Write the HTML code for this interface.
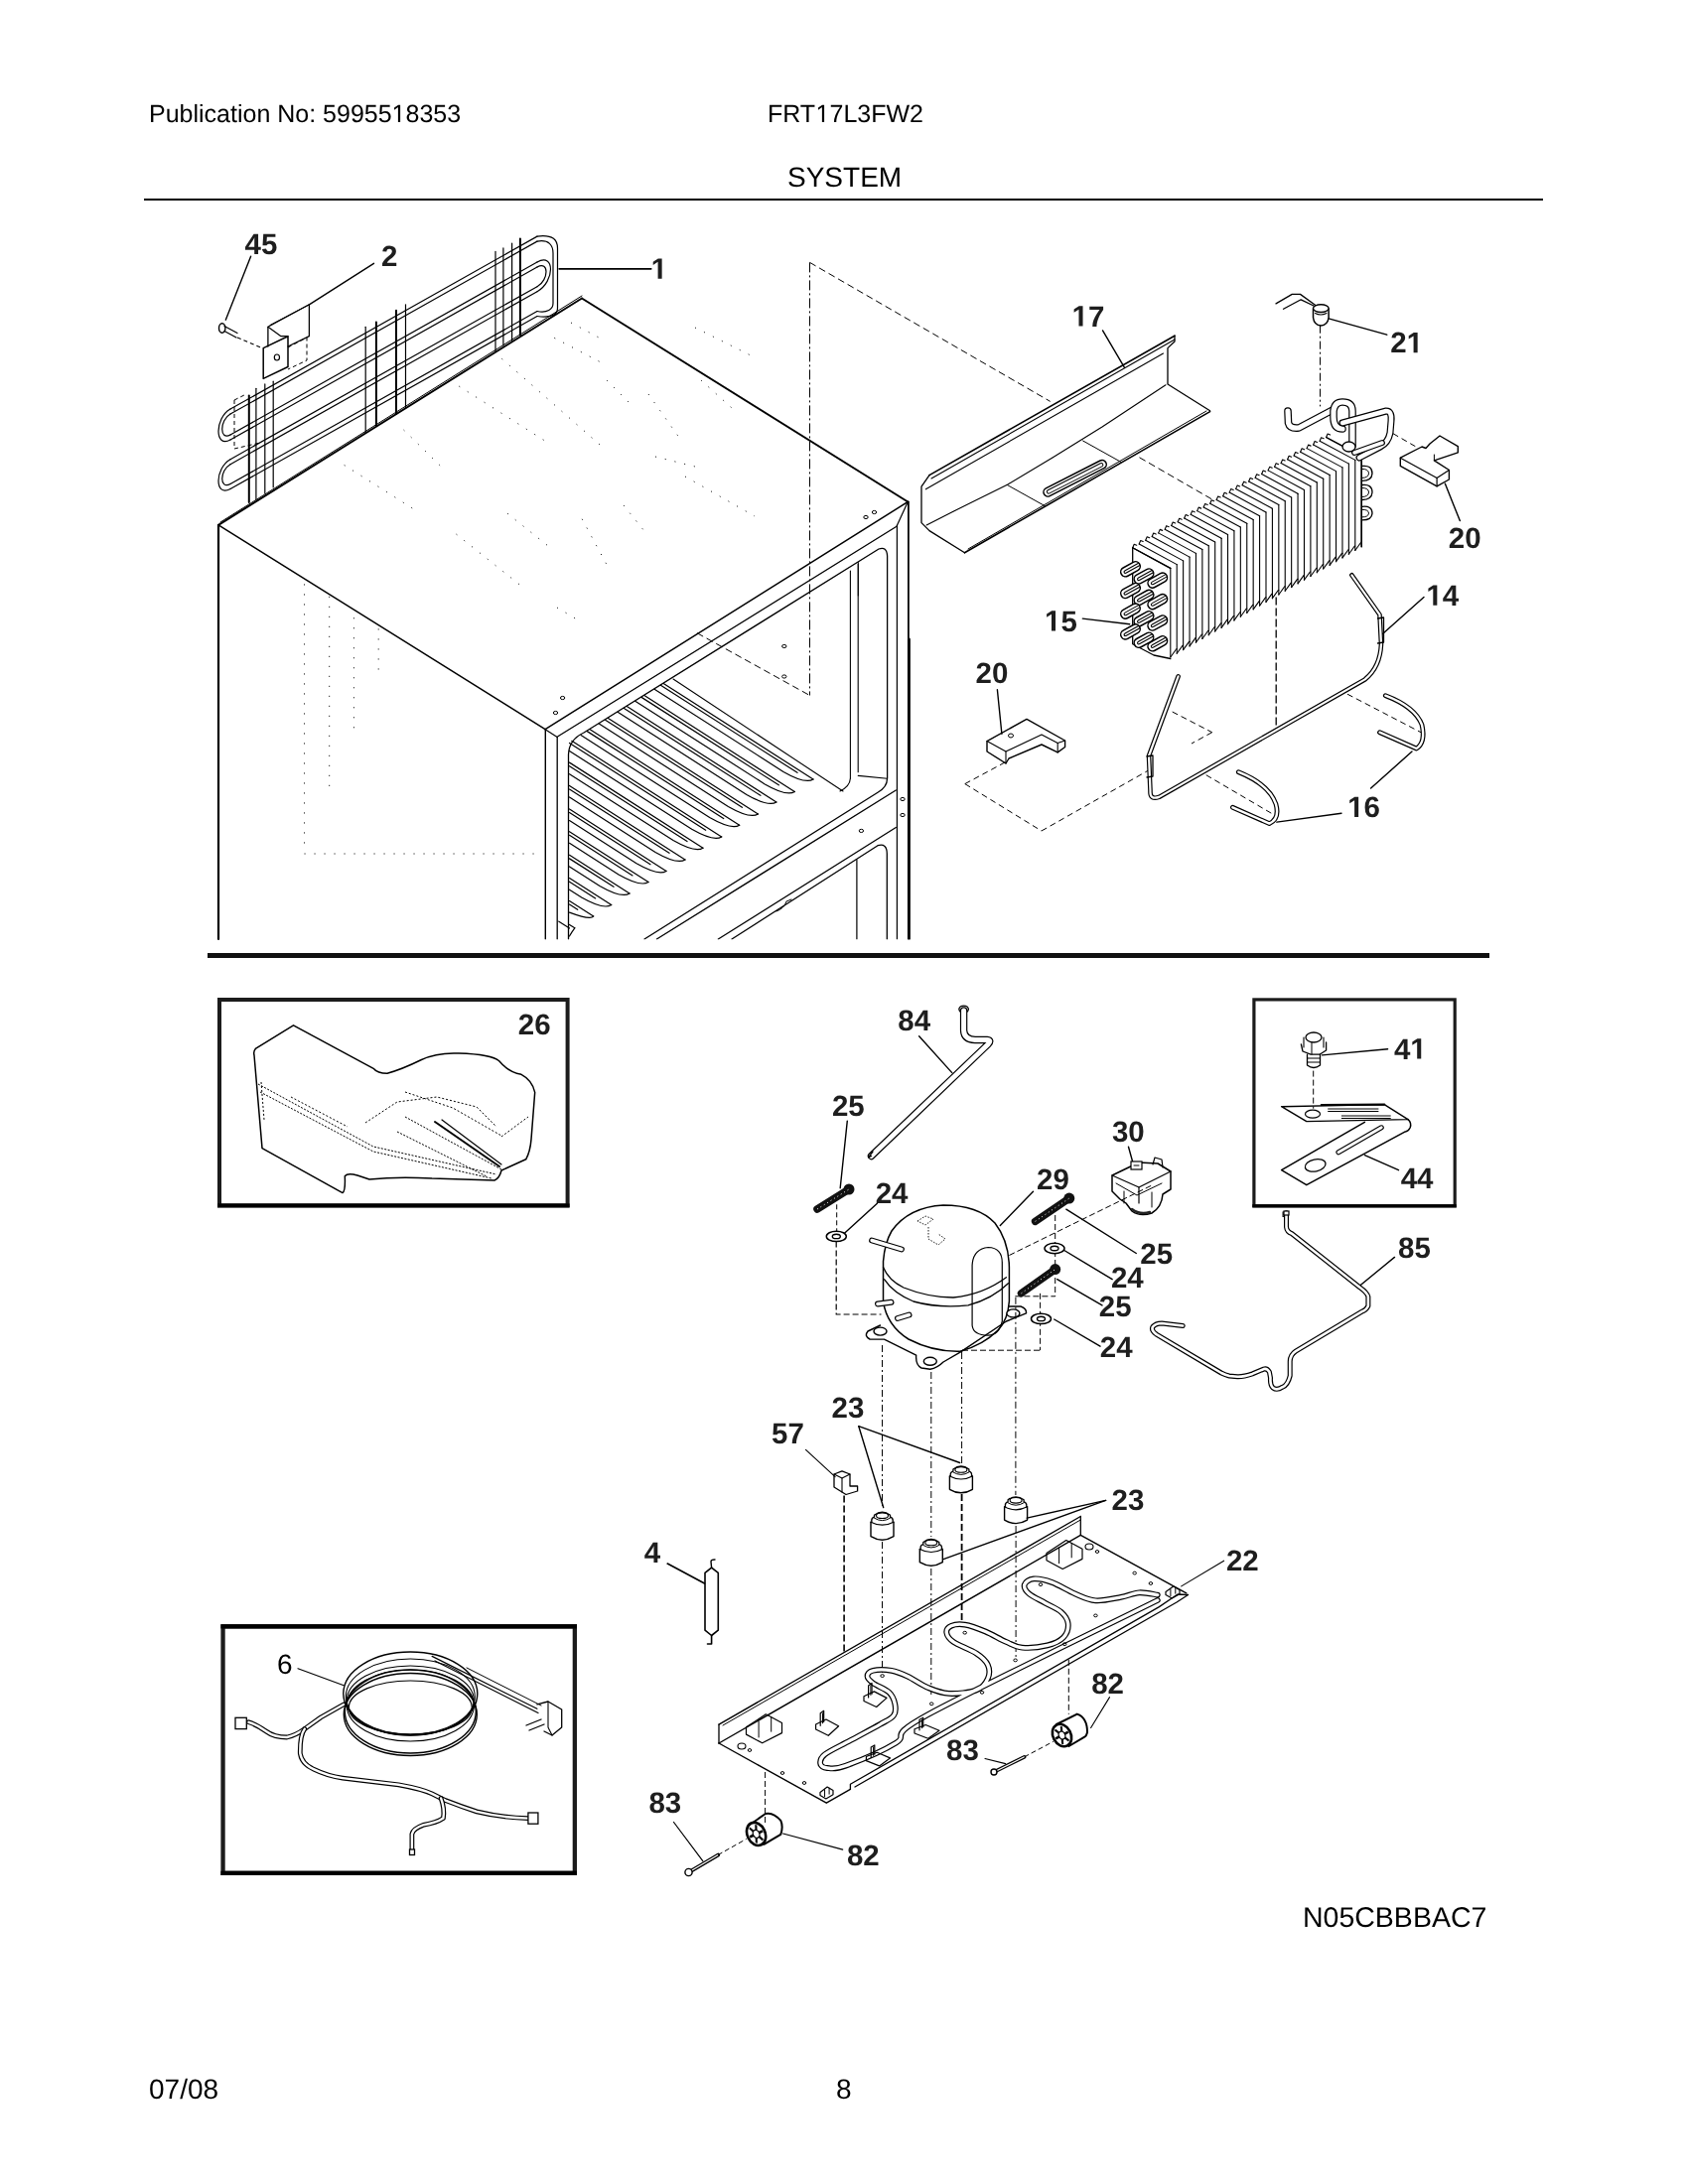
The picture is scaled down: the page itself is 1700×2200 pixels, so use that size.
<!DOCTYPE html>
<html><head><meta charset="utf-8"><style>
html,body{margin:0;padding:0;background:#fff;}
body{width:1700px;height:2200px;overflow:hidden;position:relative;font-family:"Liberation Sans",sans-serif;}
svg{position:absolute;left:0;top:0;filter:grayscale(1);}
svg text{font-family:"Liberation Sans",sans-serif;-webkit-font-smoothing:antialiased;text-rendering:geometricPrecision;}
body{-webkit-font-smoothing:antialiased;}
</style></head><body>
<svg width="1700" height="2200" viewBox="0 0 1700 2200">
<text x="150" y="123" font-size="25" font-weight="normal" text-anchor="start" fill="#000">Publication No: 59955</text>
<polygon points="400.90,123.00 400.90,107.90 397.02,110.67 397.02,108.60 401.09,105.80 403.11,105.80 403.11,123.00" fill="#000"/>
<text x="408.52" y="123" font-size="25" font-weight="normal" text-anchor="start" fill="#000">8353</text>
<text x="773" y="123" font-size="25" font-weight="normal" text-anchor="start" fill="#000">FRT</text>
<polygon points="827.88,123.00 827.88,107.90 824.00,110.67 824.00,108.60 828.07,105.80 830.09,105.80 830.09,123.00" fill="#000"/>
<text x="835.5" y="123" font-size="25" font-weight="normal" text-anchor="start" fill="#000">7L3FW2</text>
<text x="793" y="188" font-size="28" font-weight="normal" text-anchor="start" fill="#000">SYSTEM</text>
<rect x="145" y="200" width="1409" height="2" fill="#000"/>
<rect x="209" y="960" width="1291" height="5" fill="#111"/>
<text x="150" y="2114" font-size="28" font-weight="normal" text-anchor="start" fill="#000">07/08</text>
<text x="842" y="2114" font-size="28" font-weight="normal" text-anchor="start" fill="#000">8</text>
<text x="1312" y="1941" font-size="28.5" font-weight="normal" text-anchor="start" fill="#000">N05CBBBAC7</text>
<text x="246.6" y="256.2" font-size="29.5" font-weight="bold" text-anchor="start" fill="#1e1e1e">45</text>
<text x="384.0" y="268.1" font-size="29.5" font-weight="bold" text-anchor="start" fill="#1e1e1e">2</text>
<polygon points="662.59,280.70 662.59,263.85 657.72,266.89 657.72,263.70 662.80,260.40 666.63,260.40 666.63,280.70" fill="#1e1e1e"/>
<path d="M252.6,258.2 L227.3,322.2" stroke="#000" stroke-width="1.4" fill="none" stroke-linejoin="round" stroke-linecap="round" />
<path d="M376.5,265.3 L311.4,306.8" stroke="#000" stroke-width="1.4" fill="none" stroke-linejoin="round" stroke-linecap="round" />
<path d="M563.2,270.8 L655.7,270.8" stroke="#000" stroke-width="1.8" fill="none" stroke-linejoin="round" stroke-linecap="round" />
<path d="M232,412.084 L541,238.11700000000002" stroke="#000" stroke-width="1.2" fill="none" stroke-linejoin="round" stroke-linecap="round" />
<path d="M232,417.084 L541,243.11700000000002" stroke="#000" stroke-width="1.2" fill="none" stroke-linejoin="round" stroke-linecap="round" />
<path d="M232,437.984 L541,264.017" stroke="#000" stroke-width="1.2" fill="none" stroke-linejoin="round" stroke-linecap="round" />
<path d="M232,442.984 L541,269.017" stroke="#000" stroke-width="1.2" fill="none" stroke-linejoin="round" stroke-linecap="round" />
<path d="M232,462.684 L541,288.71700000000004" stroke="#000" stroke-width="1.2" fill="none" stroke-linejoin="round" stroke-linecap="round" />
<path d="M232,467.684 L541,293.71700000000004" stroke="#000" stroke-width="1.2" fill="none" stroke-linejoin="round" stroke-linecap="round" />
<path d="M232,487.484 L541,313.517" stroke="#000" stroke-width="1.2" fill="none" stroke-linejoin="round" stroke-linecap="round" />
<path d="M232,492.484 L541,318.517" stroke="#000" stroke-width="1.2" fill="none" stroke-linejoin="round" stroke-linecap="round" />
<path d="M232,412.1 C216,421.1 216,452.0 232,443.0" stroke="#000" stroke-width="1.2" fill="none" stroke-linejoin="round" stroke-linecap="round" />
<path d="M232,417.1 C221,423.3 221,444.2 232,438.0" stroke="#000" stroke-width="1.2" fill="none" stroke-linejoin="round" stroke-linecap="round" />
<path d="M232,462.7 C216,471.7 216,501.5 232,492.5" stroke="#000" stroke-width="1.2" fill="none" stroke-linejoin="round" stroke-linecap="round" />
<path d="M232,467.7 C221,473.9 221,493.7 232,487.5" stroke="#000" stroke-width="1.2" fill="none" stroke-linejoin="round" stroke-linecap="round" />
<path d="M541,264.0 C559,253.9 559,283.6 541,293.7" stroke="#000" stroke-width="1.2" fill="none" stroke-linejoin="round" stroke-linecap="round" />
<path d="M541,269.0 C553,262.3 553,282.0 541,288.7" stroke="#000" stroke-width="1.2" fill="none" stroke-linejoin="round" stroke-linecap="round" />
<path d="M541,238.1 C557.5,236.1 561.5,242.1 561.5,250.1 L561.5,310.5 C561.5,316.5 555.5,320.5 541,318.5" stroke="#000" stroke-width="1.2" fill="none" stroke-linejoin="round" stroke-linecap="round" />
<path d="M541,243.1 C553,241.1 557,247.1 557,255.1 L557,305.5 C557,311.5 551,315.5 541,313.5" stroke="#000" stroke-width="1.2" fill="none" stroke-linejoin="round" stroke-linecap="round" />
<path d="M250.8,398.4 L250.8,506" stroke="#000" stroke-width="2.0" fill="none" stroke-linejoin="round" stroke-linecap="round" />
<path d="M257.9,391.3 L257.9,503.3" stroke="#000" stroke-width="1.2" fill="none" stroke-linejoin="round" stroke-linecap="round" />
<path d="M266.8,386.9 L266.8,497" stroke="#000" stroke-width="1.2" fill="none" stroke-linejoin="round" stroke-linecap="round" />
<path d="M275.2,384.2 L275.2,490.9" stroke="#000" stroke-width="1.2" fill="none" stroke-linejoin="round" stroke-linecap="round" />
<path d="M368.2,329.3 L368.2,435.9" stroke="#000" stroke-width="1.2" fill="none" stroke-linejoin="round" stroke-linecap="round" />
<path d="M378.9,324.5 L378.9,428.8" stroke="#000" stroke-width="2.0" fill="none" stroke-linejoin="round" stroke-linecap="round" />
<path d="M399,312.7 L399,417" stroke="#000" stroke-width="2.0" fill="none" stroke-linejoin="round" stroke-linecap="round" />
<path d="M408.5,306.8 L408.5,411" stroke="#000" stroke-width="1.2" fill="none" stroke-linejoin="round" stroke-linecap="round" />
<path d="M499,253.4 L499,354" stroke="#000" stroke-width="1.2" fill="none" stroke-linejoin="round" stroke-linecap="round" />
<path d="M506.9,249.9 L506.9,348" stroke="#000" stroke-width="1.2" fill="none" stroke-linejoin="round" stroke-linecap="round" />
<path d="M515.6,245.1 L515.6,343.5" stroke="#000" stroke-width="1.2" fill="none" stroke-linejoin="round" stroke-linecap="round" />
<path d="M523.9,240.4 L523.9,337.6" stroke="#000" stroke-width="2.0" fill="none" stroke-linejoin="round" stroke-linecap="round" />
<path d="M236,403 L248,397" stroke="#000" stroke-width="1" fill="none" stroke-dasharray="4,3" stroke-linejoin="round" stroke-linecap="butt" />
<path d="M236,403 L236,452" stroke="#000" stroke-width="1" fill="none" stroke-dasharray="4,3" stroke-linejoin="round" stroke-linecap="butt" />
<path d="M236,452 L262,446" stroke="#000" stroke-width="1" fill="none" stroke-dasharray="4,3" stroke-linejoin="round" stroke-linecap="butt" />
<path d="M265.2,350.6 L290,338.7 L290,369.5 L265.2,381.4 Z" stroke="#000" stroke-width="1.5" fill="none" stroke-linejoin="round" stroke-linecap="round" />
<ellipse cx="278.9" cy="360" rx="2.6" ry="3" fill="none" stroke="#000" stroke-width="1.2"/>
<path d="M269.9,349 L269.9,329.3 L311.4,306.8 L311.4,338.7 L290,349" stroke="#000" stroke-width="1.3" fill="none" stroke-linejoin="round" stroke-linecap="round" />
<path d="M269.9,329.3 L283,338.7 L290,338.7" stroke="#000" stroke-width="1.2" fill="none" stroke-linejoin="round" stroke-linecap="round" />
<path d="M272,327.5 L311,307" stroke="#000" stroke-width="1" fill="none" stroke-linejoin="round" stroke-linecap="round" />
<path d="M290,350 L309,340 L309,363 L290,372" stroke="#000" stroke-width="1" fill="none" stroke-dasharray="4,3" stroke-linejoin="round" stroke-linecap="butt" />
<ellipse cx="223.7" cy="330.5" rx="3.2" ry="4.8" fill="none" stroke="#000" stroke-width="1.4"/>
<path d="M226,328.5 L239,335.5" stroke="#000" stroke-width="1.2" fill="none" stroke-linejoin="round" stroke-linecap="round" />
<path d="M226,333.5 L238,340" stroke="#000" stroke-width="1.2" fill="none" stroke-linejoin="round" stroke-linecap="round" />
<path d="M239,340 L264,350.6" stroke="#000" stroke-width="1.1" fill="none" stroke-dasharray="4,3" stroke-linejoin="round" stroke-linecap="butt" />
<path d="M586,300.5 L220,528.8" stroke="#000" stroke-width="2.0" fill="none" stroke-linejoin="round" stroke-linecap="round" />
<path d="M586,300.5 L914.3,505.5" stroke="#000" stroke-width="2.0" fill="none" stroke-linejoin="round" stroke-linecap="round" />
<path d="M220,528.8 L549.1,734.7" stroke="#000" stroke-width="1.5" fill="none" stroke-linejoin="round" stroke-linecap="round" />
<path d="M549.1,734.7 L914.3,505.5" stroke="#000" stroke-width="1.5" fill="none" stroke-linejoin="round" stroke-linecap="round" />
<path d="M220,528.8 L220,946" stroke="#000" stroke-width="2.2" fill="none" stroke-linejoin="round" stroke-linecap="round" />
<path d="M549.3,734.7 L549.3,946" stroke="#000" stroke-width="1.4" fill="none" stroke-linejoin="round" stroke-linecap="round" />
<path d="M561.2,742.5 L561.2,946" stroke="#000" stroke-width="1.3" fill="none" stroke-linejoin="round" stroke-linecap="round" />
<path d="M549.1,734.7 L561.2,742.5" stroke="#000" stroke-width="1.2" fill="none" stroke-linejoin="round" stroke-linecap="round" />
<path d="M561.9,741.8 L903.4,530" stroke="#000" stroke-width="1.3" fill="none" stroke-linejoin="round" stroke-linecap="round" />
<path d="M914.9,505.5 L914.9,644" stroke="#000" stroke-width="1.8" fill="none" stroke-linejoin="round" stroke-linecap="round" />
<path d="M915.4,644 L915.4,946" stroke="#000" stroke-width="2.9" fill="none" stroke-linejoin="round" stroke-linecap="round" />
<path d="M903.4,529.2 L903.4,946" stroke="#000" stroke-width="1.2" fill="none" stroke-linejoin="round" stroke-linecap="round" />
<path d="M914.3,505.5 L903.4,529.2" stroke="#000" stroke-width="1.2" fill="none" stroke-linejoin="round" stroke-linecap="round" />
<path d="M222,526 L586,298" stroke="#000" stroke-width="1.0" fill="none" stroke-linejoin="round" stroke-linecap="round" />
<path d="M572.5,946 L572.5,760 Q573,745 588,738 L885,553 Q893,550 893.6,560 L893.6,784" stroke="#000" stroke-width="1.3" fill="none" stroke-linejoin="round" stroke-linecap="round" />
<path d="M856.4,575 L856.4,784" stroke="#000" stroke-width="1.1" fill="none" stroke-linejoin="round" stroke-linecap="round" />
<path d="M864.2,568 L864.2,777.7" stroke="#000" stroke-width="1.1" fill="none" stroke-linejoin="round" stroke-linecap="round" />
<path d="M856.4,784 Q856,792 846,797" stroke="#000" stroke-width="1.1" fill="none" stroke-linejoin="round" stroke-linecap="round" />
<path d="M864.2,781.4 L893.5,784.3" stroke="#000" stroke-width="1.1" fill="none" stroke-linejoin="round" stroke-linecap="round" />
<path d="M864.3,566.5 L864.3,600" stroke="#000" stroke-width="1.0" fill="none" stroke-linejoin="round" stroke-linecap="round" />
<path d="M678,684 L849,797" stroke="#000" stroke-width="1.1" fill="none" stroke-linejoin="round" stroke-linecap="round" />
<path d="M649,946 L884,798.2 Q893.5,793 893.5,784.3" stroke="#000" stroke-width="1.3" fill="none" stroke-linejoin="round" stroke-linecap="round" />
<path d="M661.4,946 L902.3,796" stroke="#000" stroke-width="1.3" fill="none" stroke-linejoin="round" stroke-linecap="round" />
<path d="M723.3,946 L902.3,833.5" stroke="#000" stroke-width="1.3" fill="none" stroke-linejoin="round" stroke-linecap="round" />
<path d="M737,946 L884,851.7 Q893.3,849 893.3,860 L893.3,946" stroke="#000" stroke-width="1.3" fill="none" stroke-linejoin="round" stroke-linecap="round" />
<path d="M862.9,866 L862.9,946" stroke="#000" stroke-width="1.2" fill="none" stroke-linejoin="round" stroke-linecap="round" />
<path d="M782,918 Q790,915 792,908 L797,906" stroke="#000" stroke-width="1.0" fill="none" stroke-linejoin="round" stroke-linecap="round" />
<ellipse cx="566.6" cy="703" rx="2.2" ry="1.6" fill="none" stroke="#000" stroke-width="1"/>
<ellipse cx="559.5" cy="718" rx="2.2" ry="1.6" fill="none" stroke="#000" stroke-width="1"/>
<ellipse cx="909" cy="805" rx="2.2" ry="1.6" fill="none" stroke="#000" stroke-width="1"/>
<ellipse cx="909" cy="821" rx="2.2" ry="1.6" fill="none" stroke="#000" stroke-width="1"/>
<ellipse cx="867.4" cy="836.9" rx="2.2" ry="1.6" fill="none" stroke="#000" stroke-width="1"/>
<ellipse cx="880.5" cy="516" rx="2.2" ry="1.6" fill="none" stroke="#000" stroke-width="1"/>
<ellipse cx="872" cy="521" rx="2.2" ry="1.6" fill="none" stroke="#000" stroke-width="1"/>
<ellipse cx="789.8" cy="651" rx="2.2" ry="1.6" fill="none" stroke="#000" stroke-width="1"/>
<ellipse cx="789.8" cy="681.5" rx="2.2" ry="1.6" fill="none" stroke="#000" stroke-width="1"/>
<path d="M668.2206068268015,688.5011883691529 L819,785" stroke="#000" stroke-width="1.2" fill="none" stroke-linejoin="round" stroke-linecap="round" />
<path d="M665.3761061946901,690.2807079646018 L803,778.36" stroke="#000" stroke-width="1.2" fill="none" stroke-linejoin="round" stroke-linecap="round" />
<path d="M659.1,694.2 L789.0,777.4 Q811.0,790.0 819,785" stroke="#000" stroke-width="1.2" fill="none" stroke-linejoin="round" stroke-linecap="round" />
<path d="M648.8874841972187,700.59598988622 L800.3,797.5" stroke="#000" stroke-width="1.2" fill="none" stroke-linejoin="round" stroke-linecap="round" />
<path d="M646.0429835651074,702.3755094816688 L784.3,790.86" stroke="#000" stroke-width="1.2" fill="none" stroke-linejoin="round" stroke-linecap="round" />
<path d="M639.7,706.3 L770.3,789.9 Q792.3,802.5 800.3,797.5" stroke="#000" stroke-width="1.2" fill="none" stroke-linejoin="round" stroke-linecap="round" />
<path d="M631.2863463969658,711.607261694058 L781.9,808" stroke="#000" stroke-width="1.2" fill="none" stroke-linejoin="round" stroke-linecap="round" />
<path d="M628.4418457648546,713.386781289507 L765.9,801.36" stroke="#000" stroke-width="1.2" fill="none" stroke-linejoin="round" stroke-linecap="round" />
<path d="M622.1,717.3 L751.9,800.4 Q773.9,813.0 781.9,808" stroke="#000" stroke-width="1.2" fill="none" stroke-linejoin="round" stroke-linecap="round" />
<path d="M612.4494310998736,723.391635903919 L763.4,820" stroke="#000" stroke-width="1.2" fill="none" stroke-linejoin="round" stroke-linecap="round" />
<path d="M609.6049304677623,725.1711554993678 L747.4,813.36" stroke="#000" stroke-width="1.2" fill="none" stroke-linejoin="round" stroke-linecap="round" />
<path d="M603.3,729.1 L733.4,812.4 Q755.4,825.0 763.4,820" stroke="#000" stroke-width="1.2" fill="none" stroke-linejoin="round" stroke-linecap="round" />
<path d="M594.1434892541087,734.8438331226296 L744.7,831.2" stroke="#000" stroke-width="1.2" fill="none" stroke-linejoin="round" stroke-linecap="round" />
<path d="M591.2989886219974,736.6233527180784 L728.7,824.5600000000001" stroke="#000" stroke-width="1.2" fill="none" stroke-linejoin="round" stroke-linecap="round" />
<path d="M585.0,740.6 L714.7,823.6 Q736.7,836.2 744.7,831.2" stroke="#000" stroke-width="1.2" fill="none" stroke-linejoin="round" stroke-linecap="round" />
<path d="M575.7964601769912,746.3217345132744 L726.7,842.9" stroke="#000" stroke-width="1.2" fill="none" stroke-linejoin="round" stroke-linecap="round" />
<path d="M573.5,748.452 L710.7,836.26" stroke="#000" stroke-width="1.2" fill="none" stroke-linejoin="round" stroke-linecap="round" />
<path d="M573.5,756.5 L696.7,835.3 Q718.7,847.9 726.7,842.9" stroke="#000" stroke-width="1.2" fill="none" stroke-linejoin="round" stroke-linecap="round" />
<path d="M573.5,768.1200000000001 L708,854.2" stroke="#000" stroke-width="1.2" fill="none" stroke-linejoin="round" stroke-linecap="round" />
<path d="M573.5,771.72 L692,847.5600000000001" stroke="#000" stroke-width="1.2" fill="none" stroke-linejoin="round" stroke-linecap="round" />
<path d="M573.5,779.7 L678.0,846.6 Q700.0,859.2 708,854.2" stroke="#000" stroke-width="1.2" fill="none" stroke-linejoin="round" stroke-linecap="round" />
<path d="M573.5,791.44 L690,866" stroke="#000" stroke-width="1.2" fill="none" stroke-linejoin="round" stroke-linecap="round" />
<path d="M573.5,795.04 L674,859.36" stroke="#000" stroke-width="1.2" fill="none" stroke-linejoin="round" stroke-linecap="round" />
<path d="M573.5,803.0 L660.0,858.4 Q682.0,871.0 690,866" stroke="#000" stroke-width="1.2" fill="none" stroke-linejoin="round" stroke-linecap="round" />
<path d="M573.5,815.0 L671,877.4" stroke="#000" stroke-width="1.2" fill="none" stroke-linejoin="round" stroke-linecap="round" />
<path d="M573.5,818.6 L655,870.76" stroke="#000" stroke-width="1.2" fill="none" stroke-linejoin="round" stroke-linecap="round" />
<path d="M573.5,826.6 L641.0,869.8 Q663.0,882.4 671,877.4" stroke="#000" stroke-width="1.2" fill="none" stroke-linejoin="round" stroke-linecap="round" />
<path d="M573.5,837.72 L653,888.6" stroke="#000" stroke-width="1.2" fill="none" stroke-linejoin="round" stroke-linecap="round" />
<path d="M573.5,841.32 L637,881.96" stroke="#000" stroke-width="1.2" fill="none" stroke-linejoin="round" stroke-linecap="round" />
<path d="M573.5,849.3 L623.0,881.0 Q645.0,893.6 653,888.6" stroke="#000" stroke-width="1.2" fill="none" stroke-linejoin="round" stroke-linecap="round" />
<path d="M573.5,861.28 L634,900" stroke="#000" stroke-width="1.2" fill="none" stroke-linejoin="round" stroke-linecap="round" />
<path d="M573.5,864.8800000000001 L618,893.36" stroke="#000" stroke-width="1.2" fill="none" stroke-linejoin="round" stroke-linecap="round" />
<path d="M573.5,872.9 L604.0,892.4 Q626.0,905.0 634,900" stroke="#000" stroke-width="1.2" fill="none" stroke-linejoin="round" stroke-linecap="round" />
<path d="M573.5,884.5919999999999 L615.7,911.6" stroke="#000" stroke-width="1.2" fill="none" stroke-linejoin="round" stroke-linecap="round" />
<path d="M573.5,888.192 L599.7,904.96" stroke="#000" stroke-width="1.2" fill="none" stroke-linejoin="round" stroke-linecap="round" />
<path d="M573.5,896.2 L585.7,904.0 Q607.7,916.6 615.7,911.6" stroke="#000" stroke-width="1.2" fill="none" stroke-linejoin="round" stroke-linecap="round" />
<path d="M573.5,907.512 L597.7,923" stroke="#000" stroke-width="1.2" fill="none" stroke-linejoin="round" stroke-linecap="round" />
<path d="M573.5,911.1120000000001 L581.7,916.36" stroke="#000" stroke-width="1.2" fill="none" stroke-linejoin="round" stroke-linecap="round" />
<path d="M573.5,919.1 Q594.7,927.0 597.7,923" stroke="#000" stroke-width="1.2" fill="none" stroke-linejoin="round" stroke-linecap="round" />
<path d="M573.5,931.4079999999999 L578.8,934.8" stroke="#000" stroke-width="1.2" fill="none" stroke-linejoin="round" stroke-linecap="round" />
<path d="M573.5,935.008 L562.8,928.16" stroke="#000" stroke-width="1.2" fill="none" stroke-linejoin="round" stroke-linecap="round" />
<path d="M573.5,943.0 Q575.8,938.8 578.8,934.8" stroke="#000" stroke-width="1.2" fill="none" stroke-linejoin="round" stroke-linecap="round" />
<rect x="500" y="946.5" width="500" height="12" fill="#fff"/>
<path d="M815.5,264.4 L815.5,700.5" stroke="#000" stroke-width="1.0" fill="none" stroke-dasharray="10,3,2,3" stroke-linejoin="round" stroke-linecap="butt" />
<path d="M702,637.7 L815.5,700.5" stroke="#000" stroke-width="1.0" fill="none" stroke-dasharray="7,4" stroke-linejoin="round" stroke-linecap="butt" />
<path d="M815.5,264.4 L1057.7,404.4" stroke="#000" stroke-width="1.0" fill="none" stroke-dasharray="7,4" stroke-linejoin="round" stroke-linecap="butt" />
<path d="M306.5,588.4 L306.5,850.6" stroke="#111" stroke-width="1.0" fill="none" stroke-dasharray="1.1,8.9" stroke-linejoin="round" stroke-linecap="butt" />
<path d="M331.7,600.8 L331.7,792.1" stroke="#111" stroke-width="1.0" fill="none" stroke-dasharray="1.1,8.9" stroke-linejoin="round" stroke-linecap="butt" />
<path d="M356.4,622.2 L356.4,733.6" stroke="#111" stroke-width="1.0" fill="none" stroke-dasharray="1.1,8.9" stroke-linejoin="round" stroke-linecap="butt" />
<path d="M381.2,633.4 L381.2,675" stroke="#111" stroke-width="1.0" fill="none" stroke-dasharray="1.1,8.9" stroke-linejoin="round" stroke-linecap="butt" />
<path d="M306.5,860 L543.2,860" stroke="#111" stroke-width="1.0" fill="none" stroke-dasharray="1.1,8.9" stroke-linejoin="round" stroke-linecap="butt" />
<path d="M346.7,468.5 L419.1,514.4" stroke="#111" stroke-width="1.0" fill="none" stroke-dasharray="1.1,8.9" stroke-linejoin="round" stroke-linecap="butt" />
<path d="M462.3,389.1 L550,444.8" stroke="#111" stroke-width="1.0" fill="none" stroke-dasharray="1.1,8.9" stroke-linejoin="round" stroke-linecap="butt" />
<path d="M505.4,361.3 L608.5,451.8" stroke="#111" stroke-width="1.0" fill="none" stroke-dasharray="1.1,8.9" stroke-linejoin="round" stroke-linecap="butt" />
<path d="M558.3,340.4 L608.5,366.8" stroke="#111" stroke-width="1.0" fill="none" stroke-dasharray="1.1,8.9" stroke-linejoin="round" stroke-linecap="butt" />
<path d="M406.6,433.1 L447,472.7" stroke="#111" stroke-width="1.0" fill="none" stroke-dasharray="1.1,8.9" stroke-linejoin="round" stroke-linecap="butt" />
<path d="M511,517.2 L552.8,550.6" stroke="#111" stroke-width="1.0" fill="none" stroke-dasharray="1.1,8.9" stroke-linejoin="round" stroke-linecap="butt" />
<path d="M459.5,538.1 L527.7,592.4" stroke="#111" stroke-width="1.0" fill="none" stroke-dasharray="1.1,8.9" stroke-linejoin="round" stroke-linecap="butt" />
<path d="M586.2,522.8 L614,574.3" stroke="#111" stroke-width="1.0" fill="none" stroke-dasharray="1.1,8.9" stroke-linejoin="round" stroke-linecap="butt" />
<path d="M575,325 L603,340" stroke="#111" stroke-width="1.0" fill="none" stroke-dasharray="1.1,8.9" stroke-linejoin="round" stroke-linecap="butt" />
<path d="M611,383 L633,405" stroke="#111" stroke-width="1.0" fill="none" stroke-dasharray="1.1,8.9" stroke-linejoin="round" stroke-linecap="butt" />
<path d="M653,397 L687,445" stroke="#111" stroke-width="1.0" fill="none" stroke-dasharray="1.1,8.9" stroke-linejoin="round" stroke-linecap="butt" />
<path d="M706,383 L737,411" stroke="#111" stroke-width="1.0" fill="none" stroke-dasharray="1.1,8.9" stroke-linejoin="round" stroke-linecap="butt" />
<path d="M628,509 L653,540" stroke="#111" stroke-width="1.0" fill="none" stroke-dasharray="1.1,8.9" stroke-linejoin="round" stroke-linecap="butt" />
<path d="M561,612 L586,627" stroke="#111" stroke-width="1.0" fill="none" stroke-dasharray="1.1,8.9" stroke-linejoin="round" stroke-linecap="butt" />
<path d="M700,330 L760,360" stroke="#111" stroke-width="1.0" fill="none" stroke-dasharray="1.1,8.9" stroke-linejoin="round" stroke-linecap="butt" />
<path d="M660,460 L700,470" stroke="#111" stroke-width="1.0" fill="none" stroke-dasharray="1.1,8.9" stroke-linejoin="round" stroke-linecap="butt" />
<path d="M690,480 L760,520" stroke="#111" stroke-width="1.0" fill="none" stroke-dasharray="1.1,8.9" stroke-linejoin="round" stroke-linecap="butt" />
<polygon points="1086.49,328.50 1086.49,311.65 1081.62,314.69 1081.62,311.50 1086.70,308.20 1090.53,308.20 1090.53,328.50" fill="#1e1e1e"/>
<text x="1096.01" y="328.5" font-size="29.5" font-weight="bold" text-anchor="start" fill="#1e1e1e">7</text>
<path d="M1110.5,332.9 L1132.4,370.2" stroke="#000" stroke-width="1.4" fill="none" stroke-linejoin="round" stroke-linecap="round" />
<path d="M936,478.6 L1183,338.2" stroke="#000" stroke-width="1.6" fill="none" stroke-linejoin="round" stroke-linecap="round" />
<path d="M938,482 L1183,342" stroke="#000" stroke-width="1.1" fill="none" stroke-linejoin="round" stroke-linecap="round" />
<path d="M932.4,492.8 L1171.5,356" stroke="#000" stroke-width="1.1" fill="none" stroke-linejoin="round" stroke-linecap="round" />
<path d="M1183,338.2 L1183,344 L1176,350.6 L1176,387 L1218.6,413.7" stroke="#000" stroke-width="1.3" fill="none" stroke-linejoin="round" stroke-linecap="round" />
<path d="M933.1,529 L960,515.2 L1014.5,488.3 L1060,461 L1110,430 L1174,387.8" stroke="#000" stroke-width="1.1" fill="none" stroke-linejoin="round" stroke-linecap="round" />
<path d="M971.5,556.8 L1218.6,414.6" stroke="#000" stroke-width="1.6" fill="none" stroke-linejoin="round" stroke-linecap="round" />
<path d="M975,553 L1215,414" stroke="#000" stroke-width="1.0" fill="none" stroke-linejoin="round" stroke-linecap="round" />
<path d="M936,478.6 L928,490.2 L928,526.6 L936,534.6 L971.5,556.8" stroke="#000" stroke-width="1.3" fill="none" stroke-linejoin="round" stroke-linecap="round" />
<path d="M1014.2,488.4 L1052.4,509.7" stroke="#000" stroke-width="1.0" fill="none" stroke-linejoin="round" stroke-linecap="round" />
<path d="M1090.6,444 L1128.8,465.3" stroke="#000" stroke-width="1.0" fill="none" stroke-linejoin="round" stroke-linecap="round" />
<g transform="translate(1082.6,481.8) rotate(-27)"><rect x="-35" y="-4.3" width="70" height="8.6" rx="4.3" fill="none" stroke="#000" stroke-width="1.5"/><rect x="-31.5" y="-1.8" width="63" height="3.6" rx="1.8" fill="none" stroke="#000" stroke-width="1.0"/></g>
<path d="M1147.5,460.8 L1220,502.6" stroke="#000" stroke-width="1.0" fill="none" stroke-dasharray="7,4" stroke-linejoin="round" stroke-linecap="butt" />
<polygon points="1058.99,635.50 1058.99,618.65 1054.12,621.69 1054.12,618.50 1059.20,615.20 1063.03,615.20 1063.03,635.50" fill="#1e1e1e"/>
<text x="1068.51" y="635.5" font-size="29.5" font-weight="bold" text-anchor="start" fill="#1e1e1e">5</text>
<path d="M1090.3,623.1 L1137.7,628.7" stroke="#000" stroke-width="1.4" fill="none" stroke-linejoin="round" stroke-linecap="round" />
<path d="M1140.7,551.7 L1178.8,572.4" stroke="#000" stroke-width="1.1" fill="none" stroke-linejoin="round" stroke-linecap="round" />
<path d="M1178.8,572.4 L1178.8,662.0" stroke="#000" stroke-width="1.1" fill="none" stroke-linejoin="round" stroke-linecap="round" />
<path d="M1140.7,551.7 L1142.2,548.2 L1144.7,549.2" stroke="#000" stroke-width="1.1" fill="none" stroke-linejoin="round" stroke-linecap="round" />
<path d="M1178.8,662.0 L1184.7133333333334,653.7933333333333 L1185.2133333333334,653.7933333333333" stroke="#000" stroke-width="1.1" fill="none" stroke-linejoin="round" stroke-linecap="round" />
<path d="M1147.1966666666667,547.9933333333333 L1185.2133333333334,568.64" stroke="#000" stroke-width="1.1" fill="none" stroke-linejoin="round" stroke-linecap="round" />
<path d="M1185.2133333333334,568.64 L1185.2133333333334,658.2933333333333" stroke="#000" stroke-width="1.1" fill="none" stroke-linejoin="round" stroke-linecap="round" />
<path d="M1147.1966666666667,547.9933333333333 L1148.6966666666667,544.4933333333333 L1151.1966666666667,545.4933333333333" stroke="#000" stroke-width="1.1" fill="none" stroke-linejoin="round" stroke-linecap="round" />
<path d="M1185.2133333333334,658.2933333333333 L1191.1266666666666,650.0866666666667 L1191.6266666666666,650.0866666666667" stroke="#000" stroke-width="1.1" fill="none" stroke-linejoin="round" stroke-linecap="round" />
<path d="M1153.6933333333334,544.2866666666667 L1191.6266666666666,564.88" stroke="#000" stroke-width="1.1" fill="none" stroke-linejoin="round" stroke-linecap="round" />
<path d="M1191.6266666666666,564.88 L1191.6266666666666,654.5866666666667" stroke="#000" stroke-width="1.1" fill="none" stroke-linejoin="round" stroke-linecap="round" />
<path d="M1153.6933333333334,544.2866666666667 L1155.1933333333334,540.7866666666667 L1157.6933333333334,541.7866666666667" stroke="#000" stroke-width="1.1" fill="none" stroke-linejoin="round" stroke-linecap="round" />
<path d="M1191.6266666666666,654.5866666666667 L1197.54,646.38 L1198.04,646.38" stroke="#000" stroke-width="1.1" fill="none" stroke-linejoin="round" stroke-linecap="round" />
<path d="M1160.19,540.58 L1198.04,561.12" stroke="#000" stroke-width="1.1" fill="none" stroke-linejoin="round" stroke-linecap="round" />
<path d="M1198.04,561.12 L1198.04,650.88" stroke="#000" stroke-width="1.1" fill="none" stroke-linejoin="round" stroke-linecap="round" />
<path d="M1160.19,540.58 L1161.69,537.08 L1164.19,538.08" stroke="#000" stroke-width="1.1" fill="none" stroke-linejoin="round" stroke-linecap="round" />
<path d="M1198.04,650.88 L1203.9533333333334,642.6733333333333 L1204.4533333333334,642.6733333333333" stroke="#000" stroke-width="1.1" fill="none" stroke-linejoin="round" stroke-linecap="round" />
<path d="M1166.6866666666667,536.8733333333333 L1204.4533333333334,557.36" stroke="#000" stroke-width="1.1" fill="none" stroke-linejoin="round" stroke-linecap="round" />
<path d="M1204.4533333333334,557.36 L1204.4533333333334,647.1733333333333" stroke="#000" stroke-width="1.1" fill="none" stroke-linejoin="round" stroke-linecap="round" />
<path d="M1166.6866666666667,536.8733333333333 L1168.1866666666667,533.3733333333333 L1170.6866666666667,534.3733333333333" stroke="#000" stroke-width="1.1" fill="none" stroke-linejoin="round" stroke-linecap="round" />
<path d="M1204.4533333333334,647.1733333333333 L1210.3666666666666,638.9666666666667 L1210.8666666666666,638.9666666666667" stroke="#000" stroke-width="1.1" fill="none" stroke-linejoin="round" stroke-linecap="round" />
<path d="M1173.1833333333334,533.1666666666667 L1210.8666666666666,553.6" stroke="#000" stroke-width="1.1" fill="none" stroke-linejoin="round" stroke-linecap="round" />
<path d="M1210.8666666666666,553.6 L1210.8666666666666,643.4666666666667" stroke="#000" stroke-width="1.1" fill="none" stroke-linejoin="round" stroke-linecap="round" />
<path d="M1173.1833333333334,533.1666666666667 L1174.6833333333334,529.6666666666667 L1177.1833333333334,530.6666666666667" stroke="#000" stroke-width="1.1" fill="none" stroke-linejoin="round" stroke-linecap="round" />
<path d="M1210.8666666666666,643.4666666666667 L1216.78,635.26 L1217.28,635.26" stroke="#000" stroke-width="1.1" fill="none" stroke-linejoin="round" stroke-linecap="round" />
<path d="M1179.68,529.46 L1217.28,549.84" stroke="#000" stroke-width="1.1" fill="none" stroke-linejoin="round" stroke-linecap="round" />
<path d="M1217.28,549.84 L1217.28,639.76" stroke="#000" stroke-width="1.1" fill="none" stroke-linejoin="round" stroke-linecap="round" />
<path d="M1179.68,529.46 L1181.18,525.96 L1183.68,526.96" stroke="#000" stroke-width="1.1" fill="none" stroke-linejoin="round" stroke-linecap="round" />
<path d="M1217.28,639.76 L1223.1933333333334,631.5533333333333 L1223.6933333333334,631.5533333333333" stroke="#000" stroke-width="1.1" fill="none" stroke-linejoin="round" stroke-linecap="round" />
<path d="M1186.1766666666667,525.7533333333333 L1223.6933333333334,546.08" stroke="#000" stroke-width="1.1" fill="none" stroke-linejoin="round" stroke-linecap="round" />
<path d="M1223.6933333333334,546.08 L1223.6933333333334,636.0533333333333" stroke="#000" stroke-width="1.1" fill="none" stroke-linejoin="round" stroke-linecap="round" />
<path d="M1186.1766666666667,525.7533333333333 L1187.6766666666667,522.2533333333333 L1190.1766666666667,523.2533333333333" stroke="#000" stroke-width="1.1" fill="none" stroke-linejoin="round" stroke-linecap="round" />
<path d="M1223.6933333333334,636.0533333333333 L1229.6066666666666,627.8466666666667 L1230.1066666666666,627.8466666666667" stroke="#000" stroke-width="1.1" fill="none" stroke-linejoin="round" stroke-linecap="round" />
<path d="M1192.6733333333334,522.0466666666667 L1230.1066666666666,542.3199999999999" stroke="#000" stroke-width="1.1" fill="none" stroke-linejoin="round" stroke-linecap="round" />
<path d="M1230.1066666666666,542.3199999999999 L1230.1066666666666,632.3466666666667" stroke="#000" stroke-width="1.1" fill="none" stroke-linejoin="round" stroke-linecap="round" />
<path d="M1192.6733333333334,522.0466666666667 L1194.1733333333334,518.5466666666667 L1196.6733333333334,519.5466666666667" stroke="#000" stroke-width="1.1" fill="none" stroke-linejoin="round" stroke-linecap="round" />
<path d="M1230.1066666666666,632.3466666666667 L1236.02,624.14 L1236.52,624.14" stroke="#000" stroke-width="1.1" fill="none" stroke-linejoin="round" stroke-linecap="round" />
<path d="M1199.17,518.34 L1236.52,538.56" stroke="#000" stroke-width="1.1" fill="none" stroke-linejoin="round" stroke-linecap="round" />
<path d="M1236.52,538.56 L1236.52,628.64" stroke="#000" stroke-width="1.1" fill="none" stroke-linejoin="round" stroke-linecap="round" />
<path d="M1199.17,518.34 L1200.67,514.84 L1203.17,515.84" stroke="#000" stroke-width="1.1" fill="none" stroke-linejoin="round" stroke-linecap="round" />
<path d="M1236.52,628.64 L1242.4333333333334,620.4333333333333 L1242.9333333333334,620.4333333333333" stroke="#000" stroke-width="1.1" fill="none" stroke-linejoin="round" stroke-linecap="round" />
<path d="M1205.6666666666667,514.6333333333333 L1242.9333333333334,534.8" stroke="#000" stroke-width="1.1" fill="none" stroke-linejoin="round" stroke-linecap="round" />
<path d="M1242.9333333333334,534.8 L1242.9333333333334,624.9333333333333" stroke="#000" stroke-width="1.1" fill="none" stroke-linejoin="round" stroke-linecap="round" />
<path d="M1205.6666666666667,514.6333333333333 L1207.1666666666667,511.1333333333333 L1209.6666666666667,512.1333333333333" stroke="#000" stroke-width="1.1" fill="none" stroke-linejoin="round" stroke-linecap="round" />
<path d="M1242.9333333333334,624.9333333333333 L1248.8466666666666,616.7266666666667 L1249.3466666666666,616.7266666666667" stroke="#000" stroke-width="1.1" fill="none" stroke-linejoin="round" stroke-linecap="round" />
<path d="M1212.1633333333334,510.9266666666667 L1249.3466666666666,531.04" stroke="#000" stroke-width="1.1" fill="none" stroke-linejoin="round" stroke-linecap="round" />
<path d="M1249.3466666666666,531.04 L1249.3466666666666,621.2266666666667" stroke="#000" stroke-width="1.1" fill="none" stroke-linejoin="round" stroke-linecap="round" />
<path d="M1212.1633333333334,510.9266666666667 L1213.6633333333334,507.4266666666667 L1216.1633333333334,508.4266666666667" stroke="#000" stroke-width="1.1" fill="none" stroke-linejoin="round" stroke-linecap="round" />
<path d="M1249.3466666666666,621.2266666666667 L1255.26,613.02 L1255.76,613.02" stroke="#000" stroke-width="1.1" fill="none" stroke-linejoin="round" stroke-linecap="round" />
<path d="M1218.66,507.22 L1255.76,527.28" stroke="#000" stroke-width="1.1" fill="none" stroke-linejoin="round" stroke-linecap="round" />
<path d="M1255.76,527.28 L1255.76,617.52" stroke="#000" stroke-width="1.1" fill="none" stroke-linejoin="round" stroke-linecap="round" />
<path d="M1218.66,507.22 L1220.16,503.72 L1222.66,504.72" stroke="#000" stroke-width="1.1" fill="none" stroke-linejoin="round" stroke-linecap="round" />
<path d="M1255.76,617.52 L1261.6733333333334,609.3133333333333 L1262.1733333333334,609.3133333333333" stroke="#000" stroke-width="1.1" fill="none" stroke-linejoin="round" stroke-linecap="round" />
<path d="M1225.1566666666668,503.5133333333334 L1262.1733333333334,523.52" stroke="#000" stroke-width="1.1" fill="none" stroke-linejoin="round" stroke-linecap="round" />
<path d="M1262.1733333333334,523.52 L1262.1733333333334,613.8133333333333" stroke="#000" stroke-width="1.1" fill="none" stroke-linejoin="round" stroke-linecap="round" />
<path d="M1225.1566666666668,503.5133333333334 L1226.6566666666668,500.0133333333334 L1229.1566666666668,501.0133333333334" stroke="#000" stroke-width="1.1" fill="none" stroke-linejoin="round" stroke-linecap="round" />
<path d="M1262.1733333333334,613.8133333333333 L1268.0866666666666,605.6066666666667 L1268.5866666666666,605.6066666666667" stroke="#000" stroke-width="1.1" fill="none" stroke-linejoin="round" stroke-linecap="round" />
<path d="M1231.6533333333334,499.8066666666667 L1268.5866666666666,519.76" stroke="#000" stroke-width="1.1" fill="none" stroke-linejoin="round" stroke-linecap="round" />
<path d="M1268.5866666666666,519.76 L1268.5866666666666,610.1066666666667" stroke="#000" stroke-width="1.1" fill="none" stroke-linejoin="round" stroke-linecap="round" />
<path d="M1231.6533333333334,499.8066666666667 L1233.1533333333334,496.3066666666667 L1235.6533333333334,497.3066666666667" stroke="#000" stroke-width="1.1" fill="none" stroke-linejoin="round" stroke-linecap="round" />
<path d="M1268.5866666666666,610.1066666666667 L1274.5,601.9 L1275.0,601.9" stroke="#000" stroke-width="1.1" fill="none" stroke-linejoin="round" stroke-linecap="round" />
<path d="M1238.15,496.1 L1275.0,516.0" stroke="#000" stroke-width="1.1" fill="none" stroke-linejoin="round" stroke-linecap="round" />
<path d="M1275.0,516.0 L1275.0,606.4" stroke="#000" stroke-width="1.1" fill="none" stroke-linejoin="round" stroke-linecap="round" />
<path d="M1238.15,496.1 L1239.65,492.6 L1242.15,493.6" stroke="#000" stroke-width="1.1" fill="none" stroke-linejoin="round" stroke-linecap="round" />
<path d="M1275.0,606.4 L1280.9133333333334,598.1933333333333 L1281.4133333333334,598.1933333333333" stroke="#000" stroke-width="1.1" fill="none" stroke-linejoin="round" stroke-linecap="round" />
<path d="M1244.6466666666665,492.3933333333334 L1281.4133333333334,512.24" stroke="#000" stroke-width="1.1" fill="none" stroke-linejoin="round" stroke-linecap="round" />
<path d="M1281.4133333333334,512.24 L1281.4133333333334,602.6933333333333" stroke="#000" stroke-width="1.1" fill="none" stroke-linejoin="round" stroke-linecap="round" />
<path d="M1244.6466666666665,492.3933333333334 L1246.1466666666665,488.8933333333334 L1248.6466666666665,489.8933333333334" stroke="#000" stroke-width="1.1" fill="none" stroke-linejoin="round" stroke-linecap="round" />
<path d="M1281.4133333333334,602.6933333333333 L1287.3266666666666,594.4866666666667 L1287.8266666666666,594.4866666666667" stroke="#000" stroke-width="1.1" fill="none" stroke-linejoin="round" stroke-linecap="round" />
<path d="M1251.1433333333332,488.68666666666667 L1287.8266666666666,508.48" stroke="#000" stroke-width="1.1" fill="none" stroke-linejoin="round" stroke-linecap="round" />
<path d="M1287.8266666666666,508.48 L1287.8266666666666,598.9866666666667" stroke="#000" stroke-width="1.1" fill="none" stroke-linejoin="round" stroke-linecap="round" />
<path d="M1251.1433333333332,488.68666666666667 L1252.6433333333332,485.18666666666667 L1255.1433333333332,486.18666666666667" stroke="#000" stroke-width="1.1" fill="none" stroke-linejoin="round" stroke-linecap="round" />
<path d="M1287.8266666666666,598.9866666666667 L1293.74,590.78 L1294.24,590.78" stroke="#000" stroke-width="1.1" fill="none" stroke-linejoin="round" stroke-linecap="round" />
<path d="M1257.6399999999999,484.98 L1294.24,504.72" stroke="#000" stroke-width="1.1" fill="none" stroke-linejoin="round" stroke-linecap="round" />
<path d="M1294.24,504.72 L1294.24,595.28" stroke="#000" stroke-width="1.1" fill="none" stroke-linejoin="round" stroke-linecap="round" />
<path d="M1257.6399999999999,484.98 L1259.1399999999999,481.48 L1261.6399999999999,482.48" stroke="#000" stroke-width="1.1" fill="none" stroke-linejoin="round" stroke-linecap="round" />
<path d="M1294.24,595.28 L1300.1533333333334,587.0733333333333 L1300.6533333333334,587.0733333333333" stroke="#000" stroke-width="1.1" fill="none" stroke-linejoin="round" stroke-linecap="round" />
<path d="M1264.1366666666665,481.27333333333337 L1300.6533333333334,500.96000000000004" stroke="#000" stroke-width="1.1" fill="none" stroke-linejoin="round" stroke-linecap="round" />
<path d="M1300.6533333333334,500.96000000000004 L1300.6533333333334,591.5733333333333" stroke="#000" stroke-width="1.1" fill="none" stroke-linejoin="round" stroke-linecap="round" />
<path d="M1264.1366666666665,481.27333333333337 L1265.6366666666665,477.77333333333337 L1268.1366666666665,478.77333333333337" stroke="#000" stroke-width="1.1" fill="none" stroke-linejoin="round" stroke-linecap="round" />
<path d="M1300.6533333333334,591.5733333333333 L1306.5666666666666,583.3666666666667 L1307.0666666666666,583.3666666666667" stroke="#000" stroke-width="1.1" fill="none" stroke-linejoin="round" stroke-linecap="round" />
<path d="M1270.6333333333332,477.5666666666667 L1307.0666666666666,497.20000000000005" stroke="#000" stroke-width="1.1" fill="none" stroke-linejoin="round" stroke-linecap="round" />
<path d="M1307.0666666666666,497.20000000000005 L1307.0666666666666,587.8666666666667" stroke="#000" stroke-width="1.1" fill="none" stroke-linejoin="round" stroke-linecap="round" />
<path d="M1270.6333333333332,477.5666666666667 L1272.1333333333332,474.0666666666667 L1274.6333333333332,475.0666666666667" stroke="#000" stroke-width="1.1" fill="none" stroke-linejoin="round" stroke-linecap="round" />
<path d="M1307.0666666666666,587.8666666666667 L1312.98,579.66 L1313.48,579.66" stroke="#000" stroke-width="1.1" fill="none" stroke-linejoin="round" stroke-linecap="round" />
<path d="M1277.1299999999999,473.86 L1313.48,493.44" stroke="#000" stroke-width="1.1" fill="none" stroke-linejoin="round" stroke-linecap="round" />
<path d="M1313.48,493.44 L1313.48,584.16" stroke="#000" stroke-width="1.1" fill="none" stroke-linejoin="round" stroke-linecap="round" />
<path d="M1277.1299999999999,473.86 L1278.6299999999999,470.36 L1281.1299999999999,471.36" stroke="#000" stroke-width="1.1" fill="none" stroke-linejoin="round" stroke-linecap="round" />
<path d="M1313.48,584.16 L1319.3933333333334,575.9533333333333 L1319.8933333333334,575.9533333333333" stroke="#000" stroke-width="1.1" fill="none" stroke-linejoin="round" stroke-linecap="round" />
<path d="M1283.6266666666666,470.15333333333336 L1319.8933333333334,489.68" stroke="#000" stroke-width="1.1" fill="none" stroke-linejoin="round" stroke-linecap="round" />
<path d="M1319.8933333333334,489.68 L1319.8933333333334,580.4533333333333" stroke="#000" stroke-width="1.1" fill="none" stroke-linejoin="round" stroke-linecap="round" />
<path d="M1283.6266666666666,470.15333333333336 L1285.1266666666666,466.65333333333336 L1287.6266666666666,467.65333333333336" stroke="#000" stroke-width="1.1" fill="none" stroke-linejoin="round" stroke-linecap="round" />
<path d="M1319.8933333333334,580.4533333333333 L1325.8066666666666,572.2466666666667 L1326.3066666666666,572.2466666666667" stroke="#000" stroke-width="1.1" fill="none" stroke-linejoin="round" stroke-linecap="round" />
<path d="M1290.1233333333332,466.44666666666666 L1326.3066666666666,485.92" stroke="#000" stroke-width="1.1" fill="none" stroke-linejoin="round" stroke-linecap="round" />
<path d="M1326.3066666666666,485.92 L1326.3066666666666,576.7466666666667" stroke="#000" stroke-width="1.1" fill="none" stroke-linejoin="round" stroke-linecap="round" />
<path d="M1290.1233333333332,466.44666666666666 L1291.6233333333332,462.94666666666666 L1294.1233333333332,463.94666666666666" stroke="#000" stroke-width="1.1" fill="none" stroke-linejoin="round" stroke-linecap="round" />
<path d="M1326.3066666666666,576.7466666666667 L1332.22,568.54 L1332.72,568.54" stroke="#000" stroke-width="1.1" fill="none" stroke-linejoin="round" stroke-linecap="round" />
<path d="M1296.62,462.74 L1332.72,482.16" stroke="#000" stroke-width="1.1" fill="none" stroke-linejoin="round" stroke-linecap="round" />
<path d="M1332.72,482.16 L1332.72,573.04" stroke="#000" stroke-width="1.1" fill="none" stroke-linejoin="round" stroke-linecap="round" />
<path d="M1296.62,462.74 L1298.12,459.24 L1300.62,460.24" stroke="#000" stroke-width="1.1" fill="none" stroke-linejoin="round" stroke-linecap="round" />
<path d="M1332.72,573.04 L1338.6333333333334,564.8333333333333 L1339.1333333333334,564.8333333333333" stroke="#000" stroke-width="1.1" fill="none" stroke-linejoin="round" stroke-linecap="round" />
<path d="M1303.1166666666666,459.0333333333333 L1339.1333333333334,478.4" stroke="#000" stroke-width="1.1" fill="none" stroke-linejoin="round" stroke-linecap="round" />
<path d="M1339.1333333333334,478.4 L1339.1333333333334,569.3333333333333" stroke="#000" stroke-width="1.1" fill="none" stroke-linejoin="round" stroke-linecap="round" />
<path d="M1303.1166666666666,459.0333333333333 L1304.6166666666666,455.5333333333333 L1307.1166666666666,456.5333333333333" stroke="#000" stroke-width="1.1" fill="none" stroke-linejoin="round" stroke-linecap="round" />
<path d="M1339.1333333333334,569.3333333333333 L1345.0466666666666,561.1266666666667 L1345.5466666666666,561.1266666666667" stroke="#000" stroke-width="1.1" fill="none" stroke-linejoin="round" stroke-linecap="round" />
<path d="M1309.6133333333332,455.32666666666665 L1345.5466666666666,474.64" stroke="#000" stroke-width="1.1" fill="none" stroke-linejoin="round" stroke-linecap="round" />
<path d="M1345.5466666666666,474.64 L1345.5466666666666,565.6266666666667" stroke="#000" stroke-width="1.1" fill="none" stroke-linejoin="round" stroke-linecap="round" />
<path d="M1309.6133333333332,455.32666666666665 L1311.1133333333332,451.82666666666665 L1313.6133333333332,452.82666666666665" stroke="#000" stroke-width="1.1" fill="none" stroke-linejoin="round" stroke-linecap="round" />
<path d="M1345.5466666666666,565.6266666666667 L1351.46,557.42 L1351.96,557.42" stroke="#000" stroke-width="1.1" fill="none" stroke-linejoin="round" stroke-linecap="round" />
<path d="M1316.11,451.62 L1351.96,470.88" stroke="#000" stroke-width="1.1" fill="none" stroke-linejoin="round" stroke-linecap="round" />
<path d="M1351.96,470.88 L1351.96,561.92" stroke="#000" stroke-width="1.1" fill="none" stroke-linejoin="round" stroke-linecap="round" />
<path d="M1316.11,451.62 L1317.61,448.12 L1320.11,449.12" stroke="#000" stroke-width="1.1" fill="none" stroke-linejoin="round" stroke-linecap="round" />
<path d="M1351.96,561.92 L1357.8733333333334,553.7133333333333 L1358.3733333333334,553.7133333333333" stroke="#000" stroke-width="1.1" fill="none" stroke-linejoin="round" stroke-linecap="round" />
<path d="M1322.6066666666666,447.91333333333336 L1358.3733333333334,467.12" stroke="#000" stroke-width="1.1" fill="none" stroke-linejoin="round" stroke-linecap="round" />
<path d="M1358.3733333333334,467.12 L1358.3733333333334,558.2133333333333" stroke="#000" stroke-width="1.1" fill="none" stroke-linejoin="round" stroke-linecap="round" />
<path d="M1322.6066666666666,447.91333333333336 L1324.1066666666666,444.41333333333336 L1326.6066666666666,445.41333333333336" stroke="#000" stroke-width="1.1" fill="none" stroke-linejoin="round" stroke-linecap="round" />
<path d="M1358.3733333333334,558.2133333333333 L1364.2866666666666,550.0066666666667 L1364.7866666666666,550.0066666666667" stroke="#000" stroke-width="1.1" fill="none" stroke-linejoin="round" stroke-linecap="round" />
<path d="M1329.1033333333332,444.20666666666665 L1364.7866666666666,463.36" stroke="#000" stroke-width="1.1" fill="none" stroke-linejoin="round" stroke-linecap="round" />
<path d="M1364.7866666666666,463.36 L1364.7866666666666,554.5066666666667" stroke="#000" stroke-width="1.1" fill="none" stroke-linejoin="round" stroke-linecap="round" />
<path d="M1329.1033333333332,444.20666666666665 L1330.6033333333332,440.70666666666665 L1333.1033333333332,441.70666666666665" stroke="#000" stroke-width="1.1" fill="none" stroke-linejoin="round" stroke-linecap="round" />
<path d="M1364.7866666666666,554.5066666666667 L1370.7,546.3 L1371.2,546.3" stroke="#000" stroke-width="1.1" fill="none" stroke-linejoin="round" stroke-linecap="round" />
<path d="M1335.6,440.5 L1371.2,459.6" stroke="#000" stroke-width="1.1" fill="none" stroke-linejoin="round" stroke-linecap="round" />
<path d="M1371.2,459.6 L1371.2,550.8" stroke="#000" stroke-width="1.1" fill="none" stroke-linejoin="round" stroke-linecap="round" />
<path d="M1335.6,440.5 L1337.1,437.0 L1339.6,438.0" stroke="#000" stroke-width="1.1" fill="none" stroke-linejoin="round" stroke-linecap="round" />
<path d="M1140.7,551.7 L1140.7,648.7 L1162,660 L1178.8,663.5" stroke="#000" stroke-width="1.3" fill="none" stroke-linejoin="round" stroke-linecap="round" />
<path d="M1140.7,551.7 L1178.8,572.4" stroke="#000" stroke-width="1.3" fill="none" stroke-linejoin="round" stroke-linecap="round" />
<path d="M1335.6,440.5 L1371.2,459.6" stroke="#000" stroke-width="1.3" fill="none" stroke-linejoin="round" stroke-linecap="round" />
<path d="M1371.2,459.6 L1371.2,550.8" stroke="#000" stroke-width="1.5" fill="none" stroke-linejoin="round" stroke-linecap="round" />
<g transform="translate(1165.8,584.6) rotate(-29)"><rect x="-10.5" y="-4.7" width="21" height="9.4" rx="4.7" fill="#fff" stroke="#000" stroke-width="1.5"/><path d="M10,-1.3 L-5.5,-1.3 Q-7.2,-1.3 -7.2,0 Q-7.2,1.3 -5.5,1.3 L10,1.3" fill="none" stroke="#000" stroke-width="1.1"/></g>
<g transform="translate(1165.8,606.1) rotate(-29)"><rect x="-10.5" y="-4.7" width="21" height="9.4" rx="4.7" fill="#fff" stroke="#000" stroke-width="1.5"/><path d="M10,-1.3 L-5.5,-1.3 Q-7.2,-1.3 -7.2,0 Q-7.2,1.3 -5.5,1.3 L10,1.3" fill="none" stroke="#000" stroke-width="1.1"/></g>
<g transform="translate(1165.8,627.5) rotate(-29)"><rect x="-10.5" y="-4.7" width="21" height="9.4" rx="4.7" fill="#fff" stroke="#000" stroke-width="1.5"/><path d="M10,-1.3 L-5.5,-1.3 Q-7.2,-1.3 -7.2,0 Q-7.2,1.3 -5.5,1.3 L10,1.3" fill="none" stroke="#000" stroke-width="1.1"/></g>
<g transform="translate(1165.8,648.3) rotate(-29)"><rect x="-10.5" y="-4.7" width="21" height="9.4" rx="4.7" fill="#fff" stroke="#000" stroke-width="1.5"/><path d="M10,-1.3 L-5.5,-1.3 Q-7.2,-1.3 -7.2,0 Q-7.2,1.3 -5.5,1.3 L10,1.3" fill="none" stroke="#000" stroke-width="1.1"/></g>
<g transform="translate(1152,580.5) rotate(-29)"><rect x="-10.5" y="-4.7" width="21" height="9.4" rx="4.7" fill="#fff" stroke="#000" stroke-width="1.5"/><path d="M10,-1.3 L-5.5,-1.3 Q-7.2,-1.3 -7.2,0 Q-7.2,1.3 -5.5,1.3 L10,1.3" fill="none" stroke="#000" stroke-width="1.1"/></g>
<g transform="translate(1152,601.9) rotate(-29)"><rect x="-10.5" y="-4.7" width="21" height="9.4" rx="4.7" fill="#fff" stroke="#000" stroke-width="1.5"/><path d="M10,-1.3 L-5.5,-1.3 Q-7.2,-1.3 -7.2,0 Q-7.2,1.3 -5.5,1.3 L10,1.3" fill="none" stroke="#000" stroke-width="1.1"/></g>
<g transform="translate(1152,623.3) rotate(-29)"><rect x="-10.5" y="-4.7" width="21" height="9.4" rx="4.7" fill="#fff" stroke="#000" stroke-width="1.5"/><path d="M10,-1.3 L-5.5,-1.3 Q-7.2,-1.3 -7.2,0 Q-7.2,1.3 -5.5,1.3 L10,1.3" fill="none" stroke="#000" stroke-width="1.1"/></g>
<g transform="translate(1152,644.8) rotate(-29)"><rect x="-10.5" y="-4.7" width="21" height="9.4" rx="4.7" fill="#fff" stroke="#000" stroke-width="1.5"/><path d="M10,-1.3 L-5.5,-1.3 Q-7.2,-1.3 -7.2,0 Q-7.2,1.3 -5.5,1.3 L10,1.3" fill="none" stroke="#000" stroke-width="1.1"/></g>
<g transform="translate(1138.5,573.3) rotate(-29)"><rect x="-10.5" y="-4.7" width="21" height="9.4" rx="4.7" fill="#fff" stroke="#000" stroke-width="1.5"/><path d="M10,-1.3 L-5.5,-1.3 Q-7.2,-1.3 -7.2,0 Q-7.2,1.3 -5.5,1.3 L10,1.3" fill="none" stroke="#000" stroke-width="1.1"/></g>
<g transform="translate(1138.5,595) rotate(-29)"><rect x="-10.5" y="-4.7" width="21" height="9.4" rx="4.7" fill="#fff" stroke="#000" stroke-width="1.5"/><path d="M10,-1.3 L-5.5,-1.3 Q-7.2,-1.3 -7.2,0 Q-7.2,1.3 -5.5,1.3 L10,1.3" fill="none" stroke="#000" stroke-width="1.1"/></g>
<g transform="translate(1138.5,615.6) rotate(-29)"><rect x="-10.5" y="-4.7" width="21" height="9.4" rx="4.7" fill="#fff" stroke="#000" stroke-width="1.5"/><path d="M10,-1.3 L-5.5,-1.3 Q-7.2,-1.3 -7.2,0 Q-7.2,1.3 -5.5,1.3 L10,1.3" fill="none" stroke="#000" stroke-width="1.1"/></g>
<g transform="translate(1138.5,636.4) rotate(-29)"><rect x="-10.5" y="-4.7" width="21" height="9.4" rx="4.7" fill="#fff" stroke="#000" stroke-width="1.5"/><path d="M10,-1.3 L-5.5,-1.3 Q-7.2,-1.3 -7.2,0 Q-7.2,1.3 -5.5,1.3 L10,1.3" fill="none" stroke="#000" stroke-width="1.1"/></g>
<path d="M1372,469.4 Q1382,468.4 1382,476.9 Q1381.5,484.4 1372,484.4" stroke="#000" stroke-width="1.3" fill="none" stroke-linejoin="round" stroke-linecap="round" />
<path d="M1372,472.4 Q1378.5,472.4 1378.5,476.9 Q1378,481.4 1372,481.4" stroke="#000" stroke-width="1.0" fill="none" stroke-linejoin="round" stroke-linecap="round" />
<path d="M1372,488.5 Q1382,487.5 1382,496.0 Q1381.5,503.5 1372,503.5" stroke="#000" stroke-width="1.3" fill="none" stroke-linejoin="round" stroke-linecap="round" />
<path d="M1372,491.5 Q1378.5,491.5 1378.5,496.0 Q1378,500.5 1372,500.5" stroke="#000" stroke-width="1.0" fill="none" stroke-linejoin="round" stroke-linecap="round" />
<path d="M1372,510.3 Q1382,509.3 1382,517.1 Q1381.5,523.9 1372,523.9" stroke="#000" stroke-width="1.3" fill="none" stroke-linejoin="round" stroke-linecap="round" />
<path d="M1372,513.3 Q1378.5,513.3 1378.5,517.1 Q1378,520.9 1372,520.9" stroke="#000" stroke-width="1.0" fill="none" stroke-linejoin="round" stroke-linecap="round" />
<text x="1400.3" y="355.3" font-size="29.5" font-weight="bold" text-anchor="start" fill="#1e1e1e">2</text>
<polygon points="1423.59,355.30 1423.59,338.45 1418.72,341.49 1418.72,338.30 1423.81,335.00 1427.64,335.00 1427.64,355.30" fill="#1e1e1e"/>
<path d="M1338.1,320.9 L1396.7,337.2" stroke="#000" stroke-width="1.4" fill="none" stroke-linejoin="round" stroke-linecap="round" />
<path d="M1322.5,311 L1322.5,320 Q1323.5,327.5 1330.3,328 Q1337,327.5 1338.1,320 L1338.1,311" stroke="#000" stroke-width="1.5" fill="none" stroke-linejoin="round" stroke-linecap="round" />
<ellipse cx="1330.3" cy="310.6" rx="7.8" ry="3.9" fill="#fff" stroke="#000" stroke-width="1.4"/>
<path d="M1324.5,315.5 Q1330,318.5 1336,315.5" stroke="#000" stroke-width="1.1" fill="none" stroke-linejoin="round" stroke-linecap="round" />
<path d="M1285,305.9 L1301.3,296.4 L1309.5,296.4 L1324.5,307.2" stroke="#000" stroke-width="1.3" fill="none" stroke-linejoin="round" stroke-linecap="round" />
<path d="M1292.5,311.3 L1310.2,301.8 L1323,308" stroke="#000" stroke-width="1.3" fill="none" stroke-linejoin="round" stroke-linecap="round" />
<path d="M1329.5,327.7 L1329.5,409.4" stroke="#000" stroke-width="1.0" fill="none" stroke-dasharray="8,3,2,3" stroke-linejoin="round" stroke-linecap="butt" />
<path d="M1297,414 L1297.5,426 Q1299,432 1308,431 L1342,413" stroke="#000" stroke-width="7.6" fill="none" stroke-linejoin="round" stroke-linecap="round" />
<path d="M1297,414 L1297.5,426 Q1299,432 1308,431 L1342,413" stroke="#fff" stroke-width="5.2" fill="none" stroke-linejoin="round" stroke-linecap="round" />
<path d="M1352,432 Q1343,432 1343,420 L1343,414 Q1344,405 1352,405 Q1362,405 1362,414 L1362,449" stroke="#000" stroke-width="7.6" fill="none" stroke-linejoin="round" stroke-linecap="round" />
<path d="M1352,432 Q1343,432 1343,420 L1343,414 Q1344,405 1352,405 Q1362,405 1362,414 L1362,449" stroke="#fff" stroke-width="5.2" fill="none" stroke-linejoin="round" stroke-linecap="round" />
<path d="M1352,426 L1396,414 Q1402,414 1401,424 L1400,436 Q1398,446 1390,450 L1369,461" stroke="#000" stroke-width="7.0" fill="none" stroke-linejoin="round" stroke-linecap="round" />
<path d="M1352,426 L1396,414 Q1402,414 1401,424 L1400,436 Q1398,446 1390,450 L1369,461" stroke="#fff" stroke-width="4.6" fill="none" stroke-linejoin="round" stroke-linecap="round" />
<path d="M1364,456 L1392,446" stroke="#000" stroke-width="5.9" fill="none" stroke-linejoin="round" stroke-linecap="round" />
<path d="M1364,456 L1392,446" stroke="#fff" stroke-width="3.5" fill="none" stroke-linejoin="round" stroke-linecap="round" />
<ellipse cx="1358.5" cy="450" rx="6.5" ry="5" fill="#fff" stroke="#000" stroke-width="1.3"/>
<text x="1458.8" y="551.5" font-size="29.5" font-weight="bold" text-anchor="start" fill="#1e1e1e">20</text>
<path d="M1455.3,487.1 L1470.3,524.6" stroke="#000" stroke-width="1.4" fill="none" stroke-linejoin="round" stroke-linecap="round" />
<path d="M1402.9,436.7 L1425.3,449.6" stroke="#000" stroke-width="1.0" fill="none" stroke-dasharray="6,4" stroke-linejoin="round" stroke-linecap="butt" />
<path d="M1410.3,461.2 L1432,450 L1436,451.5 L1440,447 L1450,439 L1468.3,449.6 L1468.3,455.8 L1444.4,463.9 L1459.4,473.5 L1459.4,483 L1447.1,489.8 L1410.3,469.4 Z" stroke="#000" stroke-width="1.4" fill="none" stroke-linejoin="round" stroke-linecap="round" />
<path d="M1410.3,461.2 L1447.1,481.5 L1459.4,473.5" stroke="#000" stroke-width="1.2" fill="none" stroke-linejoin="round" stroke-linecap="round" />
<path d="M1447.1,481.5 L1447.1,489.8" stroke="#000" stroke-width="1.2" fill="none" stroke-linejoin="round" stroke-linecap="round" />
<path d="M1444.4,463.9 L1444.4,458" stroke="#000" stroke-width="1.0" fill="none" stroke-linejoin="round" stroke-linecap="round" />
<text x="982.5" y="688.4" font-size="29.5" font-weight="bold" text-anchor="start" fill="#1e1e1e">20</text>
<path d="M1004.4,694.8 L1008.9,739.2" stroke="#000" stroke-width="1.4" fill="none" stroke-linejoin="round" stroke-linecap="round" />
<path d="M994,746.6 L1034,724.4 L1072.6,746 L1072.6,752.5 L1065.2,757.9 L1049,750 L1016,764 L1013,769 L994,757 Z" stroke="#000" stroke-width="1.4" fill="none" stroke-linejoin="round" stroke-linecap="round" />
<path d="M994,746.6 L1013,757 L1049,740 L1065.2,748.5 L1072.6,746" stroke="#000" stroke-width="1.1" fill="none" stroke-linejoin="round" stroke-linecap="round" />
<path d="M1013,757 L1013,769" stroke="#000" stroke-width="1.1" fill="none" stroke-linejoin="round" stroke-linecap="round" />
<path d="M1065.2,748.5 L1065.2,757.9" stroke="#000" stroke-width="1.1" fill="none" stroke-linejoin="round" stroke-linecap="round" />
<ellipse cx="1018" cy="741" rx="2.5" ry="2" fill="none" stroke="#000" stroke-width="1"/>
<path d="M971.8,789.6 L1048.9,837" stroke="#000" stroke-width="1.0" fill="none" stroke-dasharray="6,4" stroke-linejoin="round" stroke-linecap="butt" />
<path d="M1048.9,837 L1161.4,773.3" stroke="#000" stroke-width="1.0" fill="none" stroke-dasharray="6,4" stroke-linejoin="round" stroke-linecap="butt" />
<path d="M971.8,789.6 L1013.3,767.3" stroke="#000" stroke-width="1.0" fill="none" stroke-dasharray="6,4" stroke-linejoin="round" stroke-linecap="butt" />
<path d="M1180.7,717 L1220.7,737.7" stroke="#000" stroke-width="1.0" fill="none" stroke-dasharray="6,4" stroke-linejoin="round" stroke-linecap="butt" />
<path d="M1220.7,737.7 L1200,749" stroke="#000" stroke-width="1.0" fill="none" stroke-dasharray="6,4" stroke-linejoin="round" stroke-linecap="butt" />
<polygon points="1443.29,609.80 1443.29,592.95 1438.42,595.99 1438.42,592.80 1443.50,589.50 1447.33,589.50 1447.33,609.80" fill="#1e1e1e"/>
<text x="1452.81" y="609.8" font-size="29.5" font-weight="bold" text-anchor="start" fill="#1e1e1e">4</text>
<path d="M1392.5,638.5 L1434,601.5" stroke="#000" stroke-width="1.4" fill="none" stroke-linejoin="round" stroke-linecap="round" />
<path d="M1361.4,579.3 L1389.5,619.2 L1391,648.9 Q1390,672 1374.7,684.4 L1167.3,802.9 Q1158,806 1158.5,797 L1157,761.4 L1186.6,681.4" stroke="#000" stroke-width="4.6" fill="none" stroke-linejoin="round" stroke-linecap="round" />
<path d="M1361.4,579.3 L1389.5,619.2 L1391,648.9 Q1390,672 1374.7,684.4 L1167.3,802.9 Q1158,806 1158.5,797 L1157,761.4 L1186.6,681.4" stroke="#fff" stroke-width="2.2" fill="none" stroke-linejoin="round" stroke-linecap="round" />
<path d="M1387.5,623 L1393.5,622 L1393.5,647 L1387.5,648" stroke="#000" stroke-width="1.3" fill="none" stroke-linejoin="round" stroke-linecap="round" />
<path d="M1155,762 L1161,761 L1161,782 L1155,783" stroke="#000" stroke-width="1.3" fill="none" stroke-linejoin="round" stroke-linecap="round" />
<path d="M1285.2,601.5 L1285.2,731.8" stroke="#000" stroke-width="1.3" fill="none" stroke-dasharray="8,3" stroke-linejoin="round" stroke-linecap="butt" />
<path d="M1357,699.2 L1431,737.7" stroke="#000" stroke-width="1.0" fill="none" stroke-dasharray="6,4" stroke-linejoin="round" stroke-linecap="butt" />
<path d="M1214.7,780.7 L1282.9,820.7" stroke="#000" stroke-width="1.0" fill="none" stroke-dasharray="6,4" stroke-linejoin="round" stroke-linecap="butt" />
<polygon points="1364.09,823.10 1364.09,806.25 1359.22,809.29 1359.22,806.10 1364.30,802.80 1368.13,802.80 1368.13,823.10" fill="#1e1e1e"/>
<text x="1373.61" y="823.1" font-size="29.5" font-weight="bold" text-anchor="start" fill="#1e1e1e">6</text>
<path d="M1351,819.2 L1285.8,828.1" stroke="#000" stroke-width="1.4" fill="none" stroke-linejoin="round" stroke-linecap="round" />
<path d="M1380.6,794 L1422,757" stroke="#000" stroke-width="1.4" fill="none" stroke-linejoin="round" stroke-linecap="round" />
<path d="M1247.3,777.7 Q1278,790 1285,810 Q1289,825 1278.4,829.6 L1241.4,813.3" stroke="#000" stroke-width="4.8" fill="none" stroke-linejoin="round" stroke-linecap="round" />
<path d="M1247.3,777.7 Q1278,790 1285,810 Q1289,825 1278.4,829.6 L1241.4,813.3" stroke="#fff" stroke-width="2.4" fill="none" stroke-linejoin="round" stroke-linecap="round" />
<path d="M1395.3,700.7 Q1425,712 1432,730 Q1436,748 1426.5,754 L1389.5,737.7" stroke="#000" stroke-width="4.8" fill="none" stroke-linejoin="round" stroke-linecap="round" />
<path d="M1395.3,700.7 Q1425,712 1432,730 Q1436,748 1426.5,754 L1389.5,737.7" stroke="#fff" stroke-width="2.4" fill="none" stroke-linejoin="round" stroke-linecap="round" />
<rect x="221.0" y="1007.0" width="350.6" height="207.4000000000001" fill="none" stroke="#1c1c1c" stroke-width="4.0"/>
<rect x="219" y="1212.4" width="354.6" height="4.0" fill="#000"/>
<rect x="1262.8999999999999" y="1006.9" width="202.3" height="207.90000000000015" fill="none" stroke="#1c1c1c" stroke-width="3.2"/>
<rect x="1261.3" y="1213.2" width="205.5" height="3.2" fill="#000"/>
<rect x="224.55" y="1638.3500000000001" width="354.3" height="248.49999999999994" fill="none" stroke="#1c1c1c" stroke-width="4.3"/>
<rect x="222.4" y="1636.2" width="358.6" height="4.3" fill="#000"/>
<rect x="222.4" y="1884.7" width="358.6" height="4.3" fill="#000"/>
<text x="521.8" y="1042.3" font-size="29.5" font-weight="bold" text-anchor="start" fill="#1e1e1e">26</text>
<path d="M295.5,1032.8 L257.3,1056.4 Q255,1059 256,1063 L264,1156.6 L345,1201.6 Q348,1200 347.3,1184.7 Q350,1181 360,1184 L372,1188 Q400,1185 435,1187 L498,1189 Q503,1187 505,1179 L529.7,1167.8 Q534,1160 535,1147.6 L538.7,1100.3 Q536,1088 525,1082.3 Q512,1080 502.7,1068.8 Q495,1062 462,1061 Q440,1060 423.9,1067.7 Q405,1077 390,1081.2 Q380,1081 376.6,1076.7 Z" stroke="#000" stroke-width="1.5" fill="none" stroke-linejoin="round" stroke-linecap="round" />
<path d="M260,1092 L376,1155 L500,1183" stroke="#000" stroke-width="1.0" fill="none" stroke-dasharray="2,1.5" stroke-linejoin="round" stroke-linecap="butt" />
<path d="M262,1100 L376,1160 L495,1187" stroke="#000" stroke-width="1.0" fill="none" stroke-dasharray="2,1.5" stroke-linejoin="round" stroke-linecap="butt" />
<path d="M293,1105 L350,1135" stroke="#000" stroke-width="1.0" fill="none" stroke-dasharray="2,2" stroke-linejoin="round" stroke-linecap="butt" />
<path d="M368,1131 L400,1110 L440,1105 L480,1115 L500,1135" stroke="#000" stroke-width="1.0" fill="none" stroke-dasharray="2,2" stroke-linejoin="round" stroke-linecap="butt" />
<path d="M408,1100 L456,1116 L505,1144" stroke="#000" stroke-width="1.0" fill="none" stroke-dasharray="2,2" stroke-linejoin="round" stroke-linecap="butt" />
<path d="M408,1125 L505,1178" stroke="#000" stroke-width="1.0" fill="none" stroke-dasharray="2,1.5" stroke-linejoin="round" stroke-linecap="butt" />
<path d="M400,1140 L490,1185" stroke="#000" stroke-width="1.0" fill="none" stroke-dasharray="2,1.5" stroke-linejoin="round" stroke-linecap="butt" />
<path d="M438,1130 L503,1175" stroke="#000" stroke-width="2.0" fill="none" stroke-linejoin="round" stroke-linecap="round" />
<path d="M445,1128 L505,1173" stroke="#000" stroke-width="1.2" fill="none" stroke-linejoin="round" stroke-linecap="round" />
<path d="M505,1145 L532,1125" stroke="#000" stroke-width="1.0" fill="none" stroke-dasharray="2,2" stroke-linejoin="round" stroke-linecap="butt" />
<path d="M263,1090 L266,1128" stroke="#000" stroke-width="1.0" fill="none" stroke-dasharray="2,2" stroke-linejoin="round" stroke-linecap="butt" />
<text x="1403.9" y="1066.6" font-size="29.5" font-weight="bold" text-anchor="start" fill="#1e1e1e">4</text>
<polygon points="1427.19,1066.60 1427.19,1049.75 1422.32,1052.79 1422.32,1049.60 1427.41,1046.30 1431.24,1046.30 1431.24,1066.60" fill="#1e1e1e"/>
<text x="1410.7" y="1196.7" font-size="29.5" font-weight="bold" text-anchor="start" fill="#1e1e1e">44</text>
<path d="M1331.5,1062.9 L1397.6,1056.8" stroke="#000" stroke-width="1.4" fill="none" stroke-linejoin="round" stroke-linecap="round" />
<path d="M1374.4,1163.7 L1408.5,1178.7" stroke="#000" stroke-width="1.4" fill="none" stroke-linejoin="round" stroke-linecap="round" />
<ellipse cx="1323" cy="1045" rx="8" ry="5" fill="none" stroke="#000" stroke-width="1.3"/>
<path d="M1310.4,1052 L1312,1059 L1320,1062.2 L1329,1062.2 L1335.6,1058 L1335.6,1050" stroke="#000" stroke-width="1.3" fill="none" stroke-linejoin="round" stroke-linecap="round" />
<path d="M1313,1045 L1313,1055" stroke="#000" stroke-width="1.1" fill="none" stroke-linejoin="round" stroke-linecap="round" />
<path d="M1333,1045 L1333,1055" stroke="#000" stroke-width="1.1" fill="none" stroke-linejoin="round" stroke-linecap="round" />
<path d="M1321,1050 L1321,1062" stroke="#000" stroke-width="1.0" fill="none" stroke-linejoin="round" stroke-linecap="round" />
<path d="M1316.5,1062.2 L1316.5,1073 Q1323,1078 1329.5,1073 L1329.5,1062.2" stroke="#000" stroke-width="1.3" fill="none" stroke-linejoin="round" stroke-linecap="round" />
<path d="M1317,1066 L1329,1066" stroke="#000" stroke-width="1.0" fill="none" stroke-linejoin="round" stroke-linecap="round" />
<path d="M1317,1070 L1329,1070" stroke="#000" stroke-width="1.0" fill="none" stroke-linejoin="round" stroke-linecap="round" />
<path d="M1322.7,1078.6 L1322.7,1116.7" stroke="#000" stroke-width="1.0" fill="none" stroke-dasharray="6,3" stroke-linejoin="round" stroke-linecap="butt" />
<path d="M1290.6,1114.7 L1394.2,1112.6 L1418,1127.6 L1315.8,1129.6 Z" stroke="#000" stroke-width="1.4" fill="none" stroke-linejoin="round" stroke-linecap="round" />
<path d="M1330.8,1113 L1394.2,1112.6" stroke="#000" stroke-width="2.2" fill="none" stroke-linejoin="round" stroke-linecap="round" />
<ellipse cx="1322" cy="1122.2" rx="7.5" ry="4" fill="none" stroke="#000" stroke-width="1.2"/>
<path d="M1337.6,1117 L1388,1117" stroke="#000" stroke-width="1.0" fill="none" stroke-linejoin="round" stroke-linecap="round" />
<path d="M1337.6,1119.5 L1388,1119.5" stroke="#000" stroke-width="1.0" fill="none" stroke-linejoin="round" stroke-linecap="round" />
<path d="M1351.3,1124 L1400.3,1124" stroke="#000" stroke-width="1.0" fill="none" stroke-linejoin="round" stroke-linecap="round" />
<path d="M1351.3,1126.5 L1400.3,1126.5" stroke="#000" stroke-width="1.0" fill="none" stroke-linejoin="round" stroke-linecap="round" />
<path d="M1418,1127.6 Q1422,1131 1420.1,1136 Q1418,1140 1415.3,1139.9 L1315.8,1193.7 L1290.6,1178.7 L1374.4,1130.3" stroke="#000" stroke-width="1.5" fill="none" stroke-linejoin="round" stroke-linecap="round" />
<ellipse cx="1324.7" cy="1173.9" rx="10.5" ry="6" fill="none" stroke="#000" stroke-width="1.3" transform="rotate(-12 1324.7 1173.9)"/>
<g transform="translate(1369.6,1148.3) rotate(-30)"><rect x="-27" y="-2" width="54" height="4" rx="2" fill="none" stroke="#000" stroke-width="1.1"/></g>
<text x="1291" y="1226" font-size="8" font-weight="bold" text-anchor="start" fill="#000">B</text>
<text x="279" y="1686.4" font-size="28" font-weight="normal" text-anchor="start" fill="#000">6</text>
<path d="M300,1680.8 L346.2,1697.7" stroke="#000" stroke-width="1.2" fill="none" stroke-linejoin="round" stroke-linecap="round" />
<ellipse cx="413.3" cy="1706" rx="67.5" ry="42" fill="none" stroke="#000" stroke-width="1.4"/>
<ellipse cx="413.3" cy="1709" rx="65" ry="38" fill="none" stroke="#000" stroke-width="1.1"/>
<ellipse cx="413.3" cy="1713" rx="64" ry="35" fill="none" stroke="#000" stroke-width="1.1"/>
<ellipse cx="413.3" cy="1718" rx="64" ry="36" fill="none" stroke="#000" stroke-width="1.1"/>
<ellipse cx="413.3" cy="1724" rx="66" ry="42" fill="none" stroke="#000" stroke-width="1.4"/>
<ellipse cx="413.3" cy="1727" rx="67" ry="41.5" fill="none" stroke="#000" stroke-width="1.4"/>
<ellipse cx="413.3" cy="1720" rx="62" ry="27" fill="none" stroke="#000" stroke-width="1.2"/>
<path d="M435.1,1668.4 L540.9,1721.3" stroke="#000" stroke-width="1.2" fill="none" stroke-linejoin="round" stroke-linecap="round" />
<path d="M438,1673 L542,1725.5" stroke="#000" stroke-width="1.2" fill="none" stroke-linejoin="round" stroke-linecap="round" />
<path d="M470,1680 L545,1718" stroke="#000" stroke-width="1.0" fill="none" stroke-linejoin="round" stroke-linecap="round" />
<path d="M540.9,1716.8 L552,1714 L565.7,1722 L565.7,1740 L556,1748 L548,1744" stroke="#000" stroke-width="1.3" fill="none" stroke-linejoin="round" stroke-linecap="round" />
<path d="M552,1714 L552,1740 L556,1748" stroke="#000" stroke-width="1.1" fill="none" stroke-linejoin="round" stroke-linecap="round" />
<path d="M530,1738 L545,1732" stroke="#000" stroke-width="1.3" fill="none" stroke-linejoin="round" stroke-linecap="round" />
<path d="M533,1743 L548,1737" stroke="#000" stroke-width="1.3" fill="none" stroke-linejoin="round" stroke-linecap="round" />
<path d="M346,1717 L323,1730 L306.8,1741.6 Q298,1748 289,1750 Q276,1750 268,1744 Q258,1737 250.5,1734.8" stroke="#000" stroke-width="4.8" fill="none" stroke-linejoin="round" stroke-linecap="round" />
<path d="M346,1717 L323,1730 L306.8,1741.6 Q298,1748 289,1750 Q276,1750 268,1744 Q258,1737 250.5,1734.8" stroke="#fff" stroke-width="2.4" fill="none" stroke-linejoin="round" stroke-linecap="round" />
<path d="M306.8,1741.6 Q302,1748 302.3,1766.3 Q304,1777 315.8,1782.1 Q330,1789 345.1,1791.1 L401.4,1797.8 Q425,1802 435.1,1806.9 L448.6,1813.6 Q465,1820 480.1,1824.9 Q505,1831 531.9,1831.6" stroke="#000" stroke-width="4.8" fill="none" stroke-linejoin="round" stroke-linecap="round" />
<path d="M306.8,1741.6 Q302,1748 302.3,1766.3 Q304,1777 315.8,1782.1 Q330,1789 345.1,1791.1 L401.4,1797.8 Q425,1802 435.1,1806.9 L448.6,1813.6 Q465,1820 480.1,1824.9 Q505,1831 531.9,1831.6" stroke="#fff" stroke-width="2.4" fill="none" stroke-linejoin="round" stroke-linecap="round" />
<path d="M444.1,1811.4 Q448,1822 446.4,1831.6 Q440,1836 426.1,1838.4 Q416,1842 414.9,1847.4 L414.9,1866" stroke="#000" stroke-width="4.8" fill="none" stroke-linejoin="round" stroke-linecap="round" />
<path d="M444.1,1811.4 Q448,1822 446.4,1831.6 Q440,1836 426.1,1838.4 Q416,1842 414.9,1847.4 L414.9,1866" stroke="#fff" stroke-width="2.4" fill="none" stroke-linejoin="round" stroke-linecap="round" />
<rect x="237" y="1730.3" width="11.3" height="11.3" fill="#fff" stroke="#000" stroke-width="1.3"/>
<rect x="531.9" y="1826" width="10" height="11.2" fill="#fff" stroke="#000" stroke-width="1.3"/>
<rect x="412.5" y="1863" width="5" height="5.5" fill="#fff" stroke="#000" stroke-width="1.3"/>
<text x="904.3" y="1037.7" font-size="29.5" font-weight="bold" text-anchor="start" fill="#1e1e1e">84</text>
<path d="M925.6,1043.8 L958.8,1080.6" stroke="#000" stroke-width="1.4" fill="none" stroke-linejoin="round" stroke-linecap="round" />
<ellipse cx="970.6" cy="1016.6" rx="4.7" ry="3.5" fill="#fff" stroke="#000" stroke-width="1.4"/>
<path d="M970.6,1018 L970.6,1038 Q971,1047 982,1047.5 L994,1047.5 Q999,1048 995,1052 L877.5,1164.5" stroke="#000" stroke-width="7.4" fill="none" stroke-linejoin="round" stroke-linecap="round" />
<path d="M970.6,1018 L970.6,1038 Q971,1047 982,1047.5 L994,1047.5 Q999,1048 995,1052 L877.5,1164.5" stroke="#fff" stroke-width="5.0" fill="none" stroke-linejoin="round" stroke-linecap="round" />
<path d="M877.5,1164.5 L874.6,1165.9 L879,1160" stroke="#000" stroke-width="1.3" fill="none" stroke-linejoin="round" stroke-linecap="round" />
<text x="837.9" y="1124.2" font-size="29.5" font-weight="bold" text-anchor="start" fill="#1e1e1e">25</text>
<path d="M853.3,1129.1 L846.2,1196.7" stroke="#000" stroke-width="1.4" fill="none" stroke-linejoin="round" stroke-linecap="round" />
<path d="M823,1218 L855,1198" stroke="#111" stroke-width="7.5" fill="none" stroke-linejoin="round" stroke-linecap="round" />
<circle cx="855" cy="1198" r="5.5" fill="#111"/>
<path d="M823,1218 L855,1198" stroke="#fff" stroke-width="1.0" fill="none" stroke-dasharray="1,3" stroke-linejoin="round" stroke-linecap="butt" />
<path d="M842.7,1213.3 L842.7,1241.7" stroke="#000" stroke-width="1.0" fill="none" stroke-dasharray="5,3" stroke-linejoin="round" stroke-linecap="butt" />
<text x="881.7" y="1211.9" font-size="29.5" font-weight="bold" text-anchor="start" fill="#1e1e1e">24</text>
<path d="M883.4,1212.2 L850.2,1242.4" stroke="#000" stroke-width="1.4" fill="none" stroke-linejoin="round" stroke-linecap="round" />
<ellipse cx="842.3" cy="1245.4" rx="10" ry="5.2" fill="#fff" stroke="#000" stroke-width="1.5"/>
<ellipse cx="842.3" cy="1245.4" rx="4" ry="2.2" fill="none" stroke="#000" stroke-width="1.4"/>
<path d="M842.2,1250.4 L842.2,1324 L887.5,1324" stroke="#000" stroke-width="1.2" fill="none" stroke-dasharray="6,3" stroke-linejoin="round" stroke-linecap="butt" />
<text x="1044.1" y="1197.7" font-size="29.5" font-weight="bold" text-anchor="start" fill="#1e1e1e">29</text>
<path d="M1040.5,1200.2 L1007.3,1234.6" stroke="#000" stroke-width="1.4" fill="none" stroke-linejoin="round" stroke-linecap="round" />
<path d="M889.5,1270.6 Q891,1252 898,1240 Q915,1216 950,1214 Q985,1214 1002,1232 Q1016,1250 1016.4,1276.6 L1016.4,1310.8 Q1015,1330 1005,1340 Q990,1355 967,1361.2 Q940,1362 915,1349 Q893,1335 889.5,1310.8 Z" stroke="#000" stroke-width="1.5" fill="none" stroke-linejoin="round" stroke-linecap="round" />
<path d="M889.5,1276.6 Q895,1290 910,1297 Q935,1307 960,1307 Q990,1304 1013.4,1286.7" stroke="#000" stroke-width="1.3" fill="none" stroke-linejoin="round" stroke-linecap="round" />
<path d="M890.5,1288.7 Q900,1303 920,1311 Q945,1318 975,1314.9 Q1000,1308 1015.4,1292.7" stroke="#000" stroke-width="1.3" fill="none" stroke-linejoin="round" stroke-linecap="round" />
<path d="M979.1,1274.6 Q980,1258 995.2,1256.5 Q1009.3,1257 1009.3,1272 L1009.3,1331 Q1006,1345 995.2,1345.1 Q980,1345 979.1,1335 Z" stroke="#000" stroke-width="1.2" fill="none" stroke-linejoin="round" stroke-linecap="round" />
<path d="M878,1249.5 L908,1258.5" stroke="#000" stroke-width="5.8" fill="none" stroke-linejoin="round" stroke-linecap="round" />
<path d="M878,1249.5 L908,1258.5" stroke="#fff" stroke-width="3.4" fill="none" stroke-linejoin="round" stroke-linecap="round" />
<path d="M884,1313.5 L897.5,1311.8" stroke="#000" stroke-width="6.0" fill="none" stroke-linejoin="round" stroke-linecap="round" />
<path d="M884,1313.5 L897.5,1311.8" stroke="#fff" stroke-width="3.6" fill="none" stroke-linejoin="round" stroke-linecap="round" />
<path d="M904,1328 L915.5,1324.5" stroke="#000" stroke-width="6.0" fill="none" stroke-linejoin="round" stroke-linecap="round" />
<path d="M904,1328 L915.5,1324.5" stroke="#fff" stroke-width="3.6" fill="none" stroke-linejoin="round" stroke-linecap="round" />
<path d="M924,1230 L932,1225 L940,1228 L932,1234 L924,1230" stroke="#000" stroke-width="0.9" fill="none" stroke-dasharray="1.5,1.5" stroke-linejoin="round" stroke-linecap="butt" />
<path d="M935,1236 L935,1248 L945,1254 L952,1248 L945,1243" stroke="#000" stroke-width="0.9" fill="none" stroke-dasharray="1.5,1.5" stroke-linejoin="round" stroke-linecap="butt" />
<path d="M886.5,1335 L874,1341 Q870,1346 876,1349 L890.5,1349.1 L922.7,1365.2 Q922,1375 928,1378 L936.8,1379.3 Q944,1378 950,1372 L967,1362.2 L1013.4,1331 L1033.5,1322.9 Q1034,1318 1028,1316 L1016.4,1316" stroke="#000" stroke-width="1.4" fill="none" stroke-linejoin="round" stroke-linecap="round" />
<ellipse cx="886.5" cy="1341.1" rx="6.5" ry="4" fill="#fff" stroke="#000" stroke-width="1.4"/>
<ellipse cx="936.8" cy="1371.3" rx="6.5" ry="4" fill="#fff" stroke="#000" stroke-width="1.4"/>
<ellipse cx="1020.4" cy="1322.9" rx="6.5" ry="4" fill="#fff" stroke="#000" stroke-width="1.4"/>
<path d="M888.5,1355 L888.5,1520" stroke="#000" stroke-width="1.0" fill="none" stroke-dasharray="7,3,2,3" stroke-linejoin="round" stroke-linecap="butt" />
<path d="M937.8,1382 L937.8,1548" stroke="#000" stroke-width="1.0" fill="none" stroke-dasharray="7,3,2,3" stroke-linejoin="round" stroke-linecap="butt" />
<path d="M968.6,1362 L968.6,1476" stroke="#000" stroke-width="1.0" fill="none" stroke-dasharray="7,3,2,3" stroke-linejoin="round" stroke-linecap="butt" />
<path d="M1022.9,1306.8 L1022.9,1506" stroke="#000" stroke-width="1.0" fill="none" stroke-dasharray="7,3,2,3" stroke-linejoin="round" stroke-linecap="butt" />
<path d="M1062.7,1224 L1062.7,1305.8" stroke="#000" stroke-width="1.0" fill="none" stroke-dasharray="6,3" stroke-linejoin="round" stroke-linecap="butt" />
<path d="M1022.4,1305.8 L1062.7,1305.8" stroke="#000" stroke-width="1.0" fill="none" stroke-dasharray="6,3" stroke-linejoin="round" stroke-linecap="butt" />
<path d="M1047.6,1302.8 L1047.6,1360.2" stroke="#000" stroke-width="1.0" fill="none" stroke-dasharray="6,3" stroke-linejoin="round" stroke-linecap="butt" />
<path d="M969,1360.2 L1047.6,1360.2" stroke="#000" stroke-width="1.0" fill="none" stroke-dasharray="6,3" stroke-linejoin="round" stroke-linecap="butt" />
<path d="M1016.4,1264.5 L1160,1194" stroke="#000" stroke-width="1.0" fill="none" stroke-dasharray="6,3" stroke-linejoin="round" stroke-linecap="butt" />
<text x="1119.9" y="1150.3" font-size="29.5" font-weight="bold" text-anchor="start" fill="#1e1e1e">30</text>
<path d="M1136.5,1155.2 L1142.4,1176.5" stroke="#000" stroke-width="1.4" fill="none" stroke-linejoin="round" stroke-linecap="round" />
<path d="M1120,1184 L1147,1171 L1166,1172 L1179,1180 L1179,1198 L1171,1203 Q1170,1216 1160,1222 Q1148,1226 1140,1220 L1134,1212 L1128,1208 L1120,1200 Z" stroke="#000" stroke-width="1.5" fill="none" stroke-linejoin="round" stroke-linecap="round" />
<path d="M1120,1184 L1147,1196 L1179,1180" stroke="#000" stroke-width="1.2" fill="none" stroke-linejoin="round" stroke-linecap="round" />
<path d="M1147,1196 L1147,1212" stroke="#000" stroke-width="1.2" fill="none" stroke-linejoin="round" stroke-linecap="round" />
<path d="M1124,1192 L1145,1204 L1170,1192" stroke="#000" stroke-width="1.0" fill="none" stroke-linejoin="round" stroke-linecap="round" />
<path d="M1132,1200 L1132,1212" stroke="#000" stroke-width="1.0" fill="none" stroke-linejoin="round" stroke-linecap="round" />
<path d="M1160,1201 L1160,1216" stroke="#000" stroke-width="1.0" fill="none" stroke-linejoin="round" stroke-linecap="round" />
<rect x="1139" y="1170" width="11" height="8" fill="#fff" stroke="#000" stroke-width="1.2"/>
<path d="M1142,1174 L1147,1174" stroke="#000" stroke-width="1.0" fill="none" stroke-linejoin="round" stroke-linecap="round" />
<path d="M1161,1173 L1163,1166 L1170,1168 L1171,1176" stroke="#000" stroke-width="1.2" fill="none" stroke-linejoin="round" stroke-linecap="round" />
<path d="M1140,1218 Q1148,1224 1158,1221" stroke="#222" stroke-width="2.5" fill="none" stroke-linejoin="round" stroke-linecap="round" />
<text x="1148.3" y="1273.0" font-size="29.5" font-weight="bold" text-anchor="start" fill="#1e1e1e">25</text>
<path d="M1073.8,1218.2 L1144.3,1262.5" stroke="#000" stroke-width="1.4" fill="none" stroke-linejoin="round" stroke-linecap="round" />
<path d="M1042.6,1230.3 L1076.8,1207.1" stroke="#111" stroke-width="7.5" fill="none" stroke-linejoin="round" stroke-linecap="round" />
<circle cx="1076.8" cy="1207.1" r="5.5" fill="#111"/>
<path d="M1042.6,1230.3 L1076.8,1207.1" stroke="#fff" stroke-width="1.0" fill="none" stroke-dasharray="1,3" stroke-linejoin="round" stroke-linecap="butt" />
<ellipse cx="1062" cy="1257.5" rx="10" ry="5.2" fill="#fff" stroke="#000" stroke-width="1.5"/>
<ellipse cx="1062" cy="1257.5" rx="4" ry="2.2" fill="none" stroke="#000" stroke-width="1.4"/>
<text x="1118.9" y="1296.7" font-size="29.5" font-weight="bold" text-anchor="start" fill="#1e1e1e">24</text>
<path d="M1071.8,1259.5 L1120.1,1288.7" stroke="#000" stroke-width="1.4" fill="none" stroke-linejoin="round" stroke-linecap="round" />
<path d="M1028.5,1302.8 L1062.7,1278.6" stroke="#111" stroke-width="7.5" fill="none" stroke-linejoin="round" stroke-linecap="round" />
<circle cx="1062.7" cy="1278.6" r="5.5" fill="#111"/>
<path d="M1028.5,1302.8 L1062.7,1278.6" stroke="#fff" stroke-width="1.0" fill="none" stroke-dasharray="1,3" stroke-linejoin="round" stroke-linecap="butt" />
<text x="1106.8" y="1326.0" font-size="29.5" font-weight="bold" text-anchor="start" fill="#1e1e1e">25</text>
<path d="M1064.7,1288.7 L1110,1314.9" stroke="#000" stroke-width="1.4" fill="none" stroke-linejoin="round" stroke-linecap="round" />
<ellipse cx="1048.5" cy="1328.4" rx="10" ry="5.2" fill="#fff" stroke="#000" stroke-width="1.5"/>
<ellipse cx="1048.5" cy="1328.4" rx="4" ry="2.2" fill="none" stroke="#000" stroke-width="1.4"/>
<text x="1107.8" y="1367.2" font-size="29.5" font-weight="bold" text-anchor="start" fill="#1e1e1e">24</text>
<path d="M1061.7,1329 L1108,1356.2" stroke="#000" stroke-width="1.4" fill="none" stroke-linejoin="round" stroke-linecap="round" />
<text x="1408.0" y="1267.4" font-size="29.5" font-weight="bold" text-anchor="start" fill="#1e1e1e">85</text>
<path d="M1404.5,1266.4 L1367.5,1296.7" stroke="#000" stroke-width="1.4" fill="none" stroke-linejoin="round" stroke-linecap="round" />
<path d="M1295.5,1221.8 L1295.5,1236 Q1296,1241 1301.1,1242.7 L1369.4,1296.7 Q1377,1302 1377.9,1306.2 L1377.9,1315.6 Q1376,1320 1371.3,1321.3 L1304.9,1361.1 Q1299,1365 1299.2,1372 L1299.2,1385.8 Q1297,1395 1291.7,1397.2 Q1286,1401 1282,1398 Q1279,1395 1279.5,1388 L1278.4,1382 Q1276,1378 1272.7,1379.1 L1261.3,1383.9 Q1252,1387 1246.2,1386.7 L1238,1386 Q1234,1385 1230,1383 L1164.6,1344.1 Q1159,1340 1161,1336.5 Q1164,1333 1170,1333 L1191.2,1335.5" stroke="#000" stroke-width="5.0" fill="none" stroke-linejoin="round" stroke-linecap="round" />
<path d="M1295.5,1221.8 L1295.5,1236 Q1296,1241 1301.1,1242.7 L1369.4,1296.7 Q1377,1302 1377.9,1306.2 L1377.9,1315.6 Q1376,1320 1371.3,1321.3 L1304.9,1361.1 Q1299,1365 1299.2,1372 L1299.2,1385.8 Q1297,1395 1291.7,1397.2 Q1286,1401 1282,1398 Q1279,1395 1279.5,1388 L1278.4,1382 Q1276,1378 1272.7,1379.1 L1261.3,1383.9 Q1252,1387 1246.2,1386.7 L1238,1386 Q1234,1385 1230,1383 L1164.6,1344.1 Q1159,1340 1161,1336.5 Q1164,1333 1170,1333 L1191.2,1335.5" stroke="#fff" stroke-width="2.6" fill="none" stroke-linejoin="round" stroke-linecap="round" />
<rect x="1293" y="1220" width="5" height="4" fill="#fff" stroke="#000" stroke-width="1.2"/>
<text x="837.5" y="1428.3" font-size="29.5" font-weight="bold" text-anchor="start" fill="#1e1e1e">23</text>
<path d="M864.8,1436.7 L889.7,1518.5" stroke="#000" stroke-width="1.4" fill="none" stroke-linejoin="round" stroke-linecap="round" />
<path d="M864.8,1436.7 L966.7,1473.5" stroke="#000" stroke-width="1.4" fill="none" stroke-linejoin="round" stroke-linecap="round" />
<text x="1119.5" y="1520.7" font-size="29.5" font-weight="bold" text-anchor="start" fill="#1e1e1e">23</text>
<path d="M1113.6,1511.4 L1034.2,1529.1" stroke="#000" stroke-width="1.4" fill="none" stroke-linejoin="round" stroke-linecap="round" />
<path d="M1113.6,1511.4 L950.1,1570.6" stroke="#000" stroke-width="1.4" fill="none" stroke-linejoin="round" stroke-linecap="round" />
<path d="M877.0,1533.2 L877.0,1547.7 Q888.5,1554.7 900.0,1547.7 L900.0,1533.2" stroke="#000" stroke-width="1.4" fill="none" stroke-linejoin="round" stroke-linecap="round" />
<path d="M877.0,1533.2 Q888.5,1539.2 900.0,1533.2" stroke="#000" stroke-width="1.2" fill="none" stroke-linejoin="round" stroke-linecap="round" />
<path d="M878.0,1533.2 Q877.0,1529.2 880.5,1528.2 L880.5,1526.2 Q888.5,1520.2 896.5,1526.2 L896.5,1528.2 Q900.0,1529.2 899.0,1533.2" stroke="#000" stroke-width="1.3" fill="none" stroke-linejoin="round" stroke-linecap="round" />
<ellipse cx="888.5" cy="1526.7" rx="6" ry="2.8" fill="none" stroke="#000" stroke-width="1.1"/>
<path d="M880.5,1529.2 Q888.5,1534.2 896.5,1529.2" stroke="#000" stroke-width="1.0" fill="none" stroke-linejoin="round" stroke-linecap="round" />
<path d="M956.4,1487 L956.4,1500.3 Q967.9,1507.3 979.4,1500.3 L979.4,1487" stroke="#000" stroke-width="1.4" fill="none" stroke-linejoin="round" stroke-linecap="round" />
<path d="M956.4,1487 Q967.9,1493 979.4,1487" stroke="#000" stroke-width="1.2" fill="none" stroke-linejoin="round" stroke-linecap="round" />
<path d="M957.4,1487 Q956.4,1483 959.9,1482 L959.9,1480 Q967.9,1474 975.9,1480 L975.9,1482 Q979.4,1483 978.4,1487" stroke="#000" stroke-width="1.3" fill="none" stroke-linejoin="round" stroke-linecap="round" />
<ellipse cx="967.9" cy="1480.5" rx="6" ry="2.8" fill="none" stroke="#000" stroke-width="1.1"/>
<path d="M959.9,1483 Q967.9,1488 975.9,1483" stroke="#000" stroke-width="1.0" fill="none" stroke-linejoin="round" stroke-linecap="round" />
<path d="M1011.6,1517.8 L1011.6,1531.1 Q1023.1,1538.1 1034.6,1531.1 L1034.6,1517.8" stroke="#000" stroke-width="1.4" fill="none" stroke-linejoin="round" stroke-linecap="round" />
<path d="M1011.6,1517.8 Q1023.1,1523.8 1034.6,1517.8" stroke="#000" stroke-width="1.2" fill="none" stroke-linejoin="round" stroke-linecap="round" />
<path d="M1012.6,1517.8 Q1011.6,1513.8 1015.1,1512.8 L1015.1,1510.8 Q1023.1,1504.8 1031.1,1510.8 L1031.1,1512.8 Q1034.6,1513.8 1033.6,1517.8" stroke="#000" stroke-width="1.3" fill="none" stroke-linejoin="round" stroke-linecap="round" />
<ellipse cx="1023.1" cy="1511.3" rx="6" ry="2.8" fill="none" stroke="#000" stroke-width="1.1"/>
<path d="M1015.1,1513.8 Q1023.1,1518.8 1031.1,1513.8" stroke="#000" stroke-width="1.0" fill="none" stroke-linejoin="round" stroke-linecap="round" />
<path d="M926.3,1560.5 L926.3,1573.7 Q937.8,1580.7 949.3,1573.7 L949.3,1560.5" stroke="#000" stroke-width="1.4" fill="none" stroke-linejoin="round" stroke-linecap="round" />
<path d="M926.3,1560.5 Q937.8,1566.5 949.3,1560.5" stroke="#000" stroke-width="1.2" fill="none" stroke-linejoin="round" stroke-linecap="round" />
<path d="M927.3,1560.5 Q926.3,1556.5 929.8,1555.5 L929.8,1553.5 Q937.8,1547.5 945.8,1553.5 L945.8,1555.5 Q949.3,1556.5 948.3,1560.5" stroke="#000" stroke-width="1.3" fill="none" stroke-linejoin="round" stroke-linecap="round" />
<ellipse cx="937.8" cy="1554.0" rx="6" ry="2.8" fill="none" stroke="#000" stroke-width="1.1"/>
<path d="M929.8,1556.5 Q937.8,1561.5 945.8,1556.5" stroke="#000" stroke-width="1.0" fill="none" stroke-linejoin="round" stroke-linecap="round" />
<text x="777.1" y="1454.3" font-size="29.5" font-weight="bold" text-anchor="start" fill="#1e1e1e">57</text>
<path d="M811.5,1460.4 L841.1,1487.7" stroke="#000" stroke-width="1.1" fill="none" stroke-linejoin="round" stroke-linecap="round" />
<path d="M840,1485 L848,1481.8 L856,1485 L856,1497 L863.6,1497 L863.6,1502 L852,1505.5 L848,1503 L840,1498 Z" stroke="#000" stroke-width="1.3" fill="none" stroke-linejoin="round" stroke-linecap="round" />
<path d="M840,1485 L848,1489 L856,1485" stroke="#000" stroke-width="1.1" fill="none" stroke-linejoin="round" stroke-linecap="round" />
<path d="M848,1489 L848,1503" stroke="#000" stroke-width="1.1" fill="none" stroke-linejoin="round" stroke-linecap="round" />
<path d="M1023.1,1537 L1023.1,1669" stroke="#000" stroke-width="1.0" fill="none" stroke-dasharray="7,3,2,3" stroke-linejoin="round" stroke-linecap="butt" />
<path d="M888.5,1553 L888.5,1688" stroke="#000" stroke-width="1.0" fill="none" stroke-dasharray="7,3,2,3" stroke-linejoin="round" stroke-linecap="butt" />
<path d="M937.8,1580 L937.8,1708" stroke="#000" stroke-width="1.0" fill="none" stroke-dasharray="7,3,2,3" stroke-linejoin="round" stroke-linecap="butt" />
<path d="M968.6,1505 L968.6,1632" stroke="#000" stroke-width="1.8" fill="none" stroke-dasharray="7,3" stroke-linejoin="round" stroke-linecap="butt" />
<path d="M850.1,1506.6 L850.1,1666" stroke="#000" stroke-width="1.6" fill="none" stroke-dasharray="7,3" stroke-linejoin="round" stroke-linecap="butt" />
<text x="1234.9" y="1581.8" font-size="29.5" font-weight="bold" text-anchor="start" fill="#1e1e1e">22</text>
<path d="M1189.7,1597.9 L1232.6,1572.2" stroke="#000" stroke-width="1.1" fill="none" stroke-linejoin="round" stroke-linecap="round" />
<path d="M724,1737.1 L1088.3,1527.5" stroke="#000" stroke-width="1.4" fill="none" stroke-linejoin="round" stroke-linecap="round" />
<path d="M728,1738 L1088.3,1531" stroke="#000" stroke-width="1.0" fill="none" stroke-linejoin="round" stroke-linecap="round" />
<path d="M724,1756 L1088.3,1546.4" stroke="#000" stroke-width="1.4" fill="none" stroke-linejoin="round" stroke-linecap="round" />
<path d="M724,1737.1 L724,1756" stroke="#000" stroke-width="1.3" fill="none" stroke-linejoin="round" stroke-linecap="round" />
<path d="M1088.3,1527.5 L1088.3,1546.4" stroke="#000" stroke-width="1.3" fill="none" stroke-linejoin="round" stroke-linecap="round" />
<path d="M724,1756 L832.3,1816.2 L856.4,1802.4" stroke="#000" stroke-width="1.4" fill="none" stroke-linejoin="round" stroke-linecap="round" />
<path d="M856.4,1802.4 L856.4,1797.3 L1167.4,1618.6 L1186,1606 L1196.6,1606.5 L1185,1614 L861,1800" stroke="#000" stroke-width="1.3" fill="none" stroke-linejoin="round" stroke-linecap="round" />
<path d="M1088.3,1546.4 L1194.8,1604.8" stroke="#000" stroke-width="1.4" fill="none" stroke-linejoin="round" stroke-linecap="round" />
<path d="M1165.8,1606.6 C1162.7,1606.2 1153.5,1603.9 1147.3,1604.3 C1141.1,1604.7 1136.1,1607.6 1128.8,1608.9 C1121.5,1610.2 1111.1,1612.9 1103.4,1612.3 C1095.7,1611.7 1089.9,1608.5 1082.6,1605.4 C1075.3,1602.3 1066.4,1596.4 1059.5,1593.9 C1052.6,1591.4 1045.6,1590.0 1041,1590.4 C1036.4,1590.8 1032.6,1593.7 1031.8,1596.2 C1031.0,1598.7 1032.9,1602.3 1036.4,1605.4 C1039.9,1608.5 1047.2,1611.6 1052.6,1614.7 C1058.0,1617.8 1064.9,1620.4 1068.8,1623.9 C1072.7,1627.4 1075.3,1631.3 1075.7,1635.5 C1076.1,1639.7 1074.6,1645.6 1071.1,1649.3 C1067.6,1653.0 1061.8,1655.7 1054.9,1657.4 C1048.0,1659.1 1036.4,1660.3 1029.5,1659.7 C1022.6,1659.1 1019.5,1656.6 1013.3,1653.9 C1007.1,1651.2 999.4,1646.4 992.5,1643.5 C985.6,1640.6 977.5,1637.5 971.7,1636.6 C965.9,1635.6 961.0,1636.4 957.9,1637.8 C954.8,1639.2 952.9,1642.0 953.3,1644.7 C953.7,1647.4 955.2,1650.4 960.2,1653.9 C965.2,1657.4 977.5,1661.7 983.3,1665.5 C989.1,1669.3 992.9,1672.8 994.8,1677 C996.7,1681.2 996.7,1686.7 994.8,1690.9 C992.9,1695.2 989.8,1700.0 983.3,1702.5 C976.8,1705.0 963.7,1706.3 955.6,1705.9 C947.5,1705.5 941.7,1703.0 934.8,1700.1 C927.9,1697.2 920.2,1691.5 914,1688.6 C907.8,1685.7 903.6,1683.8 897.8,1682.8 C892.0,1681.8 883.3,1681.8 879.3,1682.8 C875.2,1683.8 873.5,1686.5 873.5,1688.6 C873.5,1690.7 875.6,1692.8 879.3,1695.5 C883.0,1698.2 891.8,1701.3 895.5,1704.8 C899.2,1708.3 900.5,1712.4 901.3,1716.3 C902.1,1720.2 902.6,1724.4 900.1,1727.9 C897.6,1731.4 893.5,1732.9 886.2,1737.1 C878.9,1741.3 865.4,1748.3 856.2,1753.3 C847.0,1758.3 835.8,1763.3 830.8,1767.2 C825.8,1771.1 825.8,1774.1 826.2,1776.4 C826.6,1778.7 828.9,1780.6 833.1,1781 C837.3,1781.4 840.1,1782.9 851.6,1778.7 C863.1,1774.5 888.5,1764.2 902.4,1755.6 C916.3,1747.0 890.9,1750.9 934.8,1727 C978.7,1703.1 1127.3,1631.2 1165.8,1612" stroke="#000" stroke-width="5.8" fill="none" stroke-linejoin="round" stroke-linecap="round" />
<path d="M1165.8,1606.6 C1162.7,1606.2 1153.5,1603.9 1147.3,1604.3 C1141.1,1604.7 1136.1,1607.6 1128.8,1608.9 C1121.5,1610.2 1111.1,1612.9 1103.4,1612.3 C1095.7,1611.7 1089.9,1608.5 1082.6,1605.4 C1075.3,1602.3 1066.4,1596.4 1059.5,1593.9 C1052.6,1591.4 1045.6,1590.0 1041,1590.4 C1036.4,1590.8 1032.6,1593.7 1031.8,1596.2 C1031.0,1598.7 1032.9,1602.3 1036.4,1605.4 C1039.9,1608.5 1047.2,1611.6 1052.6,1614.7 C1058.0,1617.8 1064.9,1620.4 1068.8,1623.9 C1072.7,1627.4 1075.3,1631.3 1075.7,1635.5 C1076.1,1639.7 1074.6,1645.6 1071.1,1649.3 C1067.6,1653.0 1061.8,1655.7 1054.9,1657.4 C1048.0,1659.1 1036.4,1660.3 1029.5,1659.7 C1022.6,1659.1 1019.5,1656.6 1013.3,1653.9 C1007.1,1651.2 999.4,1646.4 992.5,1643.5 C985.6,1640.6 977.5,1637.5 971.7,1636.6 C965.9,1635.6 961.0,1636.4 957.9,1637.8 C954.8,1639.2 952.9,1642.0 953.3,1644.7 C953.7,1647.4 955.2,1650.4 960.2,1653.9 C965.2,1657.4 977.5,1661.7 983.3,1665.5 C989.1,1669.3 992.9,1672.8 994.8,1677 C996.7,1681.2 996.7,1686.7 994.8,1690.9 C992.9,1695.2 989.8,1700.0 983.3,1702.5 C976.8,1705.0 963.7,1706.3 955.6,1705.9 C947.5,1705.5 941.7,1703.0 934.8,1700.1 C927.9,1697.2 920.2,1691.5 914,1688.6 C907.8,1685.7 903.6,1683.8 897.8,1682.8 C892.0,1681.8 883.3,1681.8 879.3,1682.8 C875.2,1683.8 873.5,1686.5 873.5,1688.6 C873.5,1690.7 875.6,1692.8 879.3,1695.5 C883.0,1698.2 891.8,1701.3 895.5,1704.8 C899.2,1708.3 900.5,1712.4 901.3,1716.3 C902.1,1720.2 902.6,1724.4 900.1,1727.9 C897.6,1731.4 893.5,1732.9 886.2,1737.1 C878.9,1741.3 865.4,1748.3 856.2,1753.3 C847.0,1758.3 835.8,1763.3 830.8,1767.2 C825.8,1771.1 825.8,1774.1 826.2,1776.4 C826.6,1778.7 828.9,1780.6 833.1,1781 C837.3,1781.4 840.1,1782.9 851.6,1778.7 C863.1,1774.5 888.5,1764.2 902.4,1755.6 C916.3,1747.0 890.9,1750.9 934.8,1727 C978.7,1703.1 1127.3,1631.2 1165.8,1612" stroke="#fff" stroke-width="3.4" fill="none" stroke-linejoin="round" stroke-linecap="round" />
<path d="M821.6,1737.05 L831.95,1732.05 L844.6,1738.8 L834.25,1748.3 L821.6,1742.05 Z" stroke="#000" stroke-width="1.2" fill="none" stroke-linejoin="round" stroke-linecap="round" />
<path d="M826.2,1738.3 L826.2,1725.8 L829.65,1723.3 L829.65,1734.55" stroke="#000" stroke-width="1.2" fill="none" stroke-linejoin="round" stroke-linecap="round" />
<path d="M828.5,1725.8 L828.5,1735.8" stroke="#000" stroke-width="1.0" fill="none" stroke-linejoin="round" stroke-linecap="round" />
<path d="M870,1708.7 L880.35,1703.9 L893,1710.38 L882.65,1719.5 L870,1713.5 Z" stroke="#000" stroke-width="1.2" fill="none" stroke-linejoin="round" stroke-linecap="round" />
<path d="M874.6,1709.9 L874.6,1697.9 L878.05,1695.5 L878.05,1706.3" stroke="#000" stroke-width="1.2" fill="none" stroke-linejoin="round" stroke-linecap="round" />
<path d="M876.9,1697.9 L876.9,1707.5" stroke="#000" stroke-width="1.0" fill="none" stroke-linejoin="round" stroke-linecap="round" />
<path d="M921,1741.75 L932.25,1737.55 L946,1743.22 L934.75,1751.2 L921,1745.95 Z" stroke="#000" stroke-width="1.2" fill="none" stroke-linejoin="round" stroke-linecap="round" />
<path d="M926.0,1742.8 L926.0,1732.3 L929.75,1730.2 L929.75,1739.65" stroke="#000" stroke-width="1.2" fill="none" stroke-linejoin="round" stroke-linecap="round" />
<path d="M928.5,1732.3 L928.5,1740.7" stroke="#000" stroke-width="1.0" fill="none" stroke-linejoin="round" stroke-linecap="round" />
<path d="M872.4,1769.45 L883.1999999999999,1765.25 L896.4,1770.92 L885.6,1778.9 L872.4,1773.65 Z" stroke="#000" stroke-width="1.2" fill="none" stroke-linejoin="round" stroke-linecap="round" />
<path d="M877.1999999999999,1770.5 L877.1999999999999,1760.0 L880.8,1757.9 L880.8,1767.3500000000001" stroke="#000" stroke-width="1.2" fill="none" stroke-linejoin="round" stroke-linecap="round" />
<path d="M879.6,1760.0 L879.6,1768.4" stroke="#000" stroke-width="1.0" fill="none" stroke-linejoin="round" stroke-linecap="round" />
<path d="M751.5,1739.85 L771.3,1726.8 L787.5,1735.5 L787.5,1745.6499999999999 L767.7,1755.8 L751.5,1747.1 Z" stroke="#000" stroke-width="1.2" fill="none" stroke-linejoin="round" stroke-linecap="round" />
<path d="M764.1,1734.05 L764.1,1750.0" stroke="#000" stroke-width="1.0" fill="none" stroke-linejoin="round" stroke-linecap="round" />
<path d="M776.7,1729.7 L776.7,1744.2" stroke="#000" stroke-width="1.0" fill="none" stroke-linejoin="round" stroke-linecap="round" />
<path d="M1054,1564.55 L1073.8,1551.5 L1090,1560.2 L1090,1570.35 L1070.2,1580.5 L1054,1571.8 Z" stroke="#000" stroke-width="1.2" fill="none" stroke-linejoin="round" stroke-linecap="round" />
<path d="M1066.6,1558.75 L1066.6,1574.7" stroke="#000" stroke-width="1.0" fill="none" stroke-linejoin="round" stroke-linecap="round" />
<path d="M1079.2,1554.4 L1079.2,1568.9" stroke="#000" stroke-width="1.0" fill="none" stroke-linejoin="round" stroke-linecap="round" />
<path d="M1174,1603.4 L1181.7,1598 L1188,1601.6 L1188,1605.8 L1180.3,1610 L1174,1606.4 Z" stroke="#000" stroke-width="1.2" fill="none" stroke-linejoin="round" stroke-linecap="round" />
<path d="M1178.9,1601.0 L1178.9,1607.6" stroke="#000" stroke-width="1.0" fill="none" stroke-linejoin="round" stroke-linecap="round" />
<path d="M1183.8,1599.2 L1183.8,1605.2" stroke="#000" stroke-width="1.0" fill="none" stroke-linejoin="round" stroke-linecap="round" />
<path d="M826,1805.4 L833.15,1800 L839,1803.6 L839,1807.8 L831.85,1812 L826,1808.4 Z" stroke="#000" stroke-width="1.2" fill="none" stroke-linejoin="round" stroke-linecap="round" />
<path d="M830.55,1803.0 L830.55,1809.6" stroke="#000" stroke-width="1.0" fill="none" stroke-linejoin="round" stroke-linecap="round" />
<path d="M835.1,1801.2 L835.1,1807.2" stroke="#000" stroke-width="1.0" fill="none" stroke-linejoin="round" stroke-linecap="round" />
<ellipse cx="755" cy="1763" rx="1.8" ry="1.4" fill="none" stroke="#000" stroke-width="1"/>
<ellipse cx="1105" cy="1563" rx="1.8" ry="1.4" fill="none" stroke="#000" stroke-width="1"/>
<ellipse cx="888.6" cy="1688.1" rx="1.8" ry="1.4" fill="none" stroke="#000" stroke-width="1"/>
<ellipse cx="938.2" cy="1716.3" rx="1.8" ry="1.4" fill="none" stroke="#000" stroke-width="1"/>
<ellipse cx="971.7" cy="1644.7" rx="1.8" ry="1.4" fill="none" stroke="#000" stroke-width="1"/>
<ellipse cx="1022.6" cy="1672.4" rx="1.8" ry="1.4" fill="none" stroke="#000" stroke-width="1"/>
<ellipse cx="1048" cy="1596.2" rx="1.8" ry="1.4" fill="none" stroke="#000" stroke-width="1"/>
<ellipse cx="1103.4" cy="1627.4" rx="1.8" ry="1.4" fill="none" stroke="#000" stroke-width="1"/>
<ellipse cx="1072.2" cy="1656.2" rx="1.8" ry="1.4" fill="none" stroke="#000" stroke-width="1"/>
<ellipse cx="989" cy="1704.8" rx="1.8" ry="1.4" fill="none" stroke="#000" stroke-width="1"/>
<ellipse cx="1142.7" cy="1584.6" rx="1.8" ry="1.4" fill="none" stroke="#000" stroke-width="1"/>
<ellipse cx="1158.9" cy="1595" rx="1.8" ry="1.4" fill="none" stroke="#000" stroke-width="1"/>
<ellipse cx="788" cy="1786" rx="1.8" ry="1.4" fill="none" stroke="#000" stroke-width="1"/>
<ellipse cx="810" cy="1796" rx="1.8" ry="1.4" fill="none" stroke="#000" stroke-width="1"/>
<ellipse cx="1097" cy="1558" rx="4" ry="3" fill="none" stroke="#000" stroke-width="1.1"/>
<ellipse cx="747" cy="1759" rx="4" ry="3" fill="none" stroke="#000" stroke-width="1.1"/>
<text x="648.8" y="1573.9" font-size="29.5" font-weight="bold" text-anchor="start" fill="#1e1e1e">4</text>
<path d="M672.2,1575.1 L709.5,1595.1" stroke="#000" stroke-width="1.7" fill="none" stroke-linejoin="round" stroke-linecap="round" />
<path d="M716.6,1579.1 L710,1584.4 L710,1642.2 L716.6,1647.5 L723.3,1642.2 L723.3,1584.4 Z" stroke="#000" stroke-width="1.6" fill="none" stroke-linejoin="round" stroke-linecap="round" />
<path d="M716.6,1579.1 L716,1573 Q716,1571 720,1571" stroke="#000" stroke-width="1.4" fill="none" stroke-linejoin="round" stroke-linecap="round" />
<path d="M716.6,1647.5 L716.6,1656 L712.5,1656" stroke="#000" stroke-width="1.6" fill="none" stroke-linejoin="round" stroke-linecap="round" />
<text x="1099.2" y="1705.5" font-size="29.5" font-weight="bold" text-anchor="start" fill="#1e1e1e">82</text>
<path d="M1117.5,1709.6 L1098.6,1740.5" stroke="#000" stroke-width="1.1" fill="none" stroke-linejoin="round" stroke-linecap="round" />
<path d="M1064,1737 L1084.8,1726.6 Q1095,1730 1095,1745 Q1094,1749 1092.7,1749.4 L1076.5,1759" stroke="#000" stroke-width="2.0" fill="none" stroke-linejoin="round" stroke-linecap="round" />
<ellipse cx="1069.5" cy="1748" rx="9" ry="11.8" transform="rotate(-28 1069.5 1748)" fill="#fff" stroke="#000" stroke-width="2.6"/>
<line x1="1062.3" y1="1748" x2="1076.7" y2="1748" stroke="#000" stroke-width="2.0" transform="rotate(-28 1069.5 1748) translate(1069.5 1748) scale(1 1.3111111111111111) rotate(0) translate(-1069.5 -1748)"/>
<line x1="1062.3" y1="1748" x2="1076.7" y2="1748" stroke="#000" stroke-width="2.0" transform="rotate(-28 1069.5 1748) translate(1069.5 1748) scale(1 1.3111111111111111) rotate(60) translate(-1069.5 -1748)"/>
<line x1="1062.3" y1="1748" x2="1076.7" y2="1748" stroke="#000" stroke-width="2.0" transform="rotate(-28 1069.5 1748) translate(1069.5 1748) scale(1 1.3111111111111111) rotate(120) translate(-1069.5 -1748)"/>
<ellipse cx="1069.5" cy="1748" rx="3.15" ry="4.13" transform="rotate(-28 1069.5 1748)" fill="#fff" stroke="#000" stroke-width="1.3"/>
<text x="953.1" y="1772.5" font-size="29.5" font-weight="bold" text-anchor="start" fill="#1e1e1e">83</text>
<path d="M992,1771.5 L1012.7,1776.6" stroke="#000" stroke-width="1.1" fill="none" stroke-linejoin="round" stroke-linecap="round" />
<path d="M1000.7,1785.2 L1031.6,1769.8" stroke="#000" stroke-width="3.6" fill="none" stroke-linejoin="round" stroke-linecap="round" />
<path d="M1000.7,1785.2 L1031.6,1769.8" stroke="#fff" stroke-width="1.2" fill="none" stroke-linejoin="round" stroke-linecap="round" />
<circle cx="1001" cy="1785" r="3" fill="#fff" stroke="#000" stroke-width="1.4"/>
<path d="M1031.6,1769.8 L1060.8,1754.3" stroke="#000" stroke-width="1.0" fill="none" stroke-dasharray="5,3" stroke-linejoin="round" stroke-linecap="butt" />
<path d="M1076.3,1671.8 L1076.3,1726.8" stroke="#000" stroke-width="1.0" fill="none" stroke-dasharray="6,3" stroke-linejoin="round" stroke-linecap="butt" />
<text x="653.4" y="1826.4" font-size="29.5" font-weight="bold" text-anchor="start" fill="#1e1e1e">83</text>
<path d="M678.5,1835.5 L707.8,1874.7" stroke="#000" stroke-width="1.2" fill="none" stroke-linejoin="round" stroke-linecap="round" />
<path d="M693.1,1886.3 L723.2,1868.6" stroke="#000" stroke-width="3.8" fill="none" stroke-linejoin="round" stroke-linecap="round" />
<path d="M693.1,1886.3 L723.2,1868.6" stroke="#fff" stroke-width="1.2" fill="none" stroke-linejoin="round" stroke-linecap="round" />
<circle cx="693.5" cy="1886" r="3.6" fill="#fff" stroke="#000" stroke-width="1.4"/>
<path d="M723,1868.6 L751.7,1852.4" stroke="#000" stroke-width="1.0" fill="none" stroke-dasharray="5,3" stroke-linejoin="round" stroke-linecap="butt" />
<path d="M756,1837.5 L770.9,1827 Q778.6,1825 786.3,1833.9 Q789,1840 786.3,1847.8 L769.4,1857.8" stroke="#000" stroke-width="2.0" fill="none" stroke-linejoin="round" stroke-linecap="round" />
<ellipse cx="761.6" cy="1847.4" rx="9" ry="12" transform="rotate(-25 761.6 1847.4)" fill="#fff" stroke="#000" stroke-width="2.6"/>
<line x1="754.4" y1="1847.4" x2="768.8000000000001" y2="1847.4" stroke="#000" stroke-width="2.0" transform="rotate(-25 761.6 1847.4) translate(761.6 1847.4) scale(1 1.3333333333333333) rotate(0) translate(-761.6 -1847.4)"/>
<line x1="754.4" y1="1847.4" x2="768.8000000000001" y2="1847.4" stroke="#000" stroke-width="2.0" transform="rotate(-25 761.6 1847.4) translate(761.6 1847.4) scale(1 1.3333333333333333) rotate(60) translate(-761.6 -1847.4)"/>
<line x1="754.4" y1="1847.4" x2="768.8000000000001" y2="1847.4" stroke="#000" stroke-width="2.0" transform="rotate(-25 761.6 1847.4) translate(761.6 1847.4) scale(1 1.3333333333333333) rotate(120) translate(-761.6 -1847.4)"/>
<ellipse cx="761.6" cy="1847.4" rx="3.15" ry="4.199999999999999" transform="rotate(-25 761.6 1847.4)" fill="#fff" stroke="#000" stroke-width="1.3"/>
<text x="852.9" y="1878.8" font-size="29.5" font-weight="bold" text-anchor="start" fill="#1e1e1e">82</text>
<path d="M788.6,1847 L848.7,1863.2" stroke="#000" stroke-width="1.2" fill="none" stroke-linejoin="round" stroke-linecap="round" />
<path d="M770.6,1785 L770.6,1838.5" stroke="#000" stroke-width="1.0" fill="none" stroke-dasharray="6,3" stroke-linejoin="round" stroke-linecap="butt" />
</svg>
</body></html>
